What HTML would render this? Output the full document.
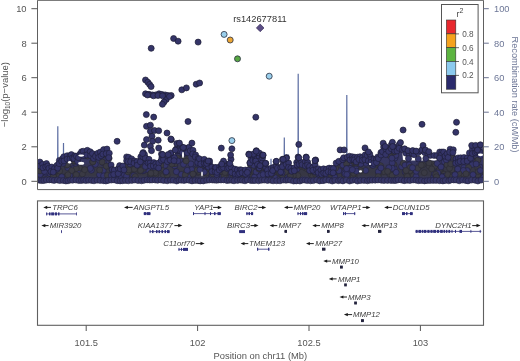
<!DOCTYPE html><html><head><meta charset="utf-8"><style>html,body{margin:0;padding:0;background:#fff;}svg{display:block;}text{font-family:"Liberation Sans",Arial,sans-serif;}</style></head><body>
<svg width="520" height="361" viewBox="0 0 520 361">
<defs><linearGradient id="mg" gradientUnits="userSpaceOnUse" x1="0" y1="140" x2="0" y2="184"><stop offset="0" stop-color="#333364"/><stop offset="0.52" stop-color="#363660"/><stop offset="0.64" stop-color="#363646"/><stop offset="0.795" stop-color="#373743"/><stop offset="0.886" stop-color="#38385e"/><stop offset="1" stop-color="#363666"/></linearGradient></defs>
<polyline fill="none" stroke="#5d6ea2" stroke-width="1.2" stroke-linejoin="bevel" points="37.5,178.0 57.6,177.0 57.8,126.2 58.0,177.0 63.3,177.0 63.5,143.0 63.7,177.0 120.0,176.0 200.0,177.0 270.8,176.0 271.0,158.8 271.2,176.0 284.1,175.0 284.3,137.5 284.5,175.0 288.3,176.0 288.5,154.4 288.7,176.0 298.0,175.0 298.2,73.7 298.4,175.0 346.6,176.0 346.8,95.0 347.0,176.0 420.0,177.0 483.5,176.0"/>
<clipPath id="pc"><rect x="37.5" y="0.5" width="446.0" height="189.1"/></clipPath>
<g clip-path="url(#pc)">
<polygon fill="url(#mg)" points="38.0,161.5 39.0,161.7 40.0,162.1 41.0,163.1 42.0,164.1 43.0,164.0 44.0,163.6 45.0,163.1 46.0,163.6 47.0,164.1 48.0,164.7 49.0,165.5 50.0,166.2 51.0,166.7 52.0,167.2 53.0,167.4 54.0,167.6 55.0,167.2 56.0,166.4 57.0,164.9 58.0,162.2 59.0,160.9 60.0,160.3 61.0,159.3 62.0,158.3 63.0,157.3 64.0,156.5 65.0,156.0 66.0,155.5 67.0,155.2 68.0,154.8 69.0,154.7 70.0,154.6 71.0,154.6 72.0,154.7 73.0,154.9 74.0,155.2 75.0,155.6 76.0,155.8 77.0,156.1 78.0,155.4 79.0,154.0 80.0,153.0 81.0,152.1 82.0,151.9 83.0,151.6 84.0,151.1 85.0,150.6 86.0,150.3 87.0,150.1 88.0,150.0 89.0,150.5 90.0,151.0 91.0,151.7 92.0,152.4 93.0,153.2 94.0,154.0 95.0,154.3 96.0,153.7 97.0,153.2 98.0,152.9 99.0,152.4 100.0,151.9 101.0,151.4 102.0,150.9 103.0,149.9 104.0,148.9 105.0,148.7 106.0,148.7 107.0,149.3 108.0,150.6 109.0,152.8 110.0,158.5 111.0,161.9 112.0,165.1 113.0,167.6 114.0,169.4 115.0,170.4 116.0,170.9 117.0,169.4 118.0,167.9 119.0,166.5 120.0,165.5 121.0,166.1 122.0,166.8 123.0,166.5 124.0,164.1 125.0,161.1 126.0,157.6 127.0,156.9 128.0,156.4 129.0,156.6 130.0,157.3 131.0,158.1 132.0,158.8 133.0,159.6 134.0,160.4 135.0,161.1 136.0,161.4 137.0,161.4 138.0,160.7 139.0,158.5 140.0,156.2 141.0,154.1 142.0,151.9 143.0,152.0 144.0,153.2 145.0,154.2 146.0,155.2 147.0,156.2 148.0,158.2 149.0,160.2 150.0,162.2 151.0,162.3 152.0,162.4 153.0,162.5 154.0,162.6 155.0,162.7 156.0,162.8 157.0,162.9 158.0,163.0 159.0,163.1 160.0,163.2 161.0,159.2 162.0,157.1 163.0,156.8 164.0,156.5 165.0,156.2 166.0,156.1 167.0,156.0 168.0,155.9 169.0,155.9 170.0,155.8 171.0,155.8 172.0,156.3 173.0,156.7 174.0,157.2 175.0,153.6 176.0,150.0 177.0,147.9 178.0,147.4 179.0,146.9 180.0,146.4 181.0,146.7 182.0,147.0 183.0,147.3 184.0,147.6 185.0,147.9 186.0,148.2 187.0,147.9 188.0,147.5 189.0,147.2 190.0,146.9 191.0,146.6 192.0,147.4 193.0,149.3 194.0,151.3 195.0,153.2 196.0,155.8 197.0,158.5 198.0,158.5 199.0,158.5 200.0,158.5 201.0,158.5 202.0,158.5 203.0,158.5 204.0,160.1 205.0,161.7 206.0,162.0 207.0,162.3 208.0,162.6 209.0,162.9 210.0,163.2 211.0,164.9 212.0,166.7 213.0,166.9 214.0,167.2 215.0,167.4 216.0,167.7 217.0,167.3 218.0,166.9 219.0,166.6 220.0,166.2 221.0,165.7 222.0,165.2 223.0,164.2 224.0,163.2 225.0,163.4 226.0,163.5 227.0,163.7 228.0,163.9 229.0,164.1 230.0,164.4 231.0,165.7 232.0,166.9 233.0,168.2 234.0,169.2 235.0,169.2 236.0,169.2 237.0,169.2 238.0,169.2 239.0,169.2 240.0,169.2 241.0,169.2 242.0,169.2 243.0,169.2 244.0,169.2 245.0,169.2 246.0,169.2 247.0,169.2 248.0,169.2 249.0,159.2 250.0,158.2 251.0,157.2 252.0,156.6 253.0,156.0 254.0,155.3 255.0,154.7 256.0,154.1 257.0,154.5 258.0,155.2 259.0,156.0 260.0,156.7 261.0,157.4 262.0,158.0 263.0,159.3 264.0,161.9 265.0,164.3 266.0,166.6 267.0,167.9 268.0,169.2 269.0,168.9 270.0,168.7 271.0,168.4 272.0,167.9 273.0,167.2 274.0,166.4 275.0,165.6 276.0,164.9 277.0,165.5 278.0,166.2 279.0,167.0 280.0,167.7 281.0,167.6 282.0,164.2 283.0,162.3 284.0,161.9 285.0,161.4 286.0,161.0 287.0,161.4 288.0,162.7 289.0,163.9 290.0,165.2 291.0,167.7 292.0,167.7 293.0,167.7 294.0,167.7 295.0,166.4 296.0,163.2 297.0,161.8 298.0,160.3 299.0,160.5 300.0,160.9 301.0,161.3 302.0,161.7 303.0,161.3 304.0,161.0 305.0,160.6 306.0,160.2 307.0,161.5 308.0,163.0 309.0,164.5 310.0,165.6 311.0,166.1 312.0,166.7 313.0,167.2 314.0,165.7 315.0,164.3 316.0,164.7 317.0,166.5 318.0,168.2 319.0,169.4 320.0,170.6 321.0,169.8 322.0,169.1 323.0,168.3 324.0,168.3 325.0,168.3 326.0,168.3 327.0,168.3 328.0,168.3 329.0,168.3 330.0,168.3 331.0,168.3 332.0,168.3 333.0,168.3 334.0,168.3 335.0,166.7 336.0,162.6 337.0,161.4 338.0,161.4 339.0,161.4 340.0,161.4 341.0,160.7 342.0,159.4 343.0,158.2 344.0,157.5 345.0,157.3 346.0,157.3 347.0,157.3 348.0,157.3 349.0,156.3 350.0,156.3 351.0,156.3 352.0,156.4 353.0,156.4 354.0,156.4 355.0,156.5 356.0,156.5 357.0,156.5 358.0,156.6 359.0,156.6 360.0,156.6 361.0,156.6 362.0,156.7 363.0,156.7 364.0,155.5 365.0,154.4 366.0,153.2 367.0,154.3 368.0,155.4 369.0,156.4 370.0,157.4 371.0,157.8 372.0,158.3 373.0,158.5 374.0,158.6 375.0,158.8 376.0,158.9 377.0,158.8 378.0,156.9 379.0,155.1 380.0,153.2 381.0,150.9 382.0,148.7 383.0,146.4 384.0,146.6 385.0,147.9 386.0,149.2 387.0,148.9 388.0,148.5 389.0,148.2 390.0,146.9 391.0,145.6 392.0,144.6 393.0,145.8 394.0,147.0 395.0,148.2 396.0,147.5 397.0,146.7 398.0,146.0 399.0,145.2 400.0,144.5 401.0,145.9 402.0,147.3 403.0,160.6 404.0,160.6 405.0,160.6 406.0,160.6 407.0,160.6 408.0,160.6 409.0,160.6 410.0,160.6 411.0,160.6 412.0,160.6 413.0,160.6 414.0,160.6 415.0,160.6 416.0,160.6 417.0,160.6 418.0,160.6 419.0,160.6 420.0,160.6 421.0,160.6 422.0,160.6 423.0,160.6 424.0,160.6 425.0,160.6 426.0,160.6 427.0,160.6 428.0,160.6 429.0,160.6 430.0,160.6 431.0,160.6 432.0,160.6 433.0,160.6 434.0,160.6 435.0,160.6 436.0,160.6 437.0,160.6 438.0,160.6 439.0,160.6 440.0,160.6 441.0,152.0 442.0,152.0 443.0,152.0 444.0,152.0 445.0,152.4 446.0,153.3 447.0,154.2 448.0,151.9 449.0,149.7 450.0,149.2 451.0,149.2 452.0,149.2 453.0,149.2 454.0,150.8 455.0,159.0 456.0,158.2 457.0,157.4 458.0,157.2 459.0,157.2 460.0,157.2 461.0,157.2 462.0,157.2 463.0,157.2 464.0,157.2 465.0,157.2 466.0,157.2 467.0,157.2 468.0,156.7 469.0,154.9 470.0,153.2 471.0,150.5 472.0,148.6 473.0,148.6 474.0,148.6 475.0,148.6 476.0,148.6 477.0,148.4 478.0,148.3 479.0,148.2 480.0,148.1 481.0,148.5 482.0,149.2 483.0,149.2 483.5,181.5 38.0,181.5"/>
<circle cx="239.7" cy="174.2" r="3" fill="#35356a" stroke="#22223a" stroke-width="0.6"/>
<circle cx="245.6" cy="173.9" r="3" fill="#35356a" stroke="#22223a" stroke-width="0.6"/>
<circle cx="121.2" cy="172.5" r="3" fill="#35356a" stroke="#22223a" stroke-width="0.6"/>
<circle cx="390.4" cy="150.7" r="3" fill="#3a3a44" stroke="#2a2a32" stroke-width="0.6"/>
<circle cx="79.6" cy="172.8" r="3" fill="#35356a" stroke="#22223a" stroke-width="0.6"/>
<circle cx="58.0" cy="176.8" r="3" fill="#35356a" stroke="#22223a" stroke-width="0.6"/>
<circle cx="328.9" cy="174.2" r="3" fill="#3a3a44" stroke="#2a2a32" stroke-width="0.6"/>
<circle cx="46.1" cy="171.4" r="3" fill="#3a3a44" stroke="#2a2a32" stroke-width="0.6"/>
<circle cx="123.7" cy="168.9" r="3" fill="#3a3a44" stroke="#2a2a32" stroke-width="0.6"/>
<circle cx="244.8" cy="173.5" r="3" fill="#35356a" stroke="#22223a" stroke-width="0.6"/>
<circle cx="269.2" cy="174.6" r="3" fill="#3a3a44" stroke="#2a2a32" stroke-width="0.6"/>
<circle cx="332.6" cy="173.1" r="3" fill="#3a3a44" stroke="#2a2a32" stroke-width="0.6"/>
<circle cx="481.0" cy="176.9" r="3" fill="#35356a" stroke="#22223a" stroke-width="0.6"/>
<circle cx="352.7" cy="163.9" r="3" fill="#3a3a44" stroke="#2a2a32" stroke-width="0.6"/>
<circle cx="167.4" cy="158.9" r="3" fill="#35356a" stroke="#22223a" stroke-width="0.6"/>
<circle cx="216.7" cy="175.8" r="3" fill="#3a3a44" stroke="#2a2a32" stroke-width="0.6"/>
<circle cx="463.4" cy="174.2" r="3" fill="#3a3a44" stroke="#2a2a32" stroke-width="0.6"/>
<circle cx="132.3" cy="175.5" r="3" fill="#3a3a44" stroke="#2a2a32" stroke-width="0.6"/>
<circle cx="473.3" cy="160.8" r="3" fill="#3a3a44" stroke="#2a2a32" stroke-width="0.6"/>
<circle cx="318.0" cy="175.4" r="3" fill="#3a3a44" stroke="#2a2a32" stroke-width="0.6"/>
<circle cx="78.1" cy="163.5" r="3" fill="#35356a" stroke="#22223a" stroke-width="0.6"/>
<circle cx="374.9" cy="162.2" r="3" fill="#3a3a44" stroke="#2a2a32" stroke-width="0.6"/>
<circle cx="84.2" cy="154.0" r="3" fill="#35356a" stroke="#22223a" stroke-width="0.6"/>
<circle cx="118.1" cy="173.5" r="3" fill="#3a3a44" stroke="#2a2a32" stroke-width="0.6"/>
<circle cx="123.9" cy="174.0" r="3" fill="#3a3a44" stroke="#2a2a32" stroke-width="0.6"/>
<circle cx="324.3" cy="170.6" r="3" fill="#3a3a44" stroke="#2a2a32" stroke-width="0.6"/>
<circle cx="133.7" cy="165.8" r="3" fill="#35356a" stroke="#22223a" stroke-width="0.6"/>
<circle cx="395.0" cy="158.0" r="3" fill="#35356a" stroke="#22223a" stroke-width="0.6"/>
<circle cx="132.7" cy="167.3" r="3" fill="#35356a" stroke="#22223a" stroke-width="0.6"/>
<circle cx="323.5" cy="170.5" r="3" fill="#35356a" stroke="#22223a" stroke-width="0.6"/>
<circle cx="133.9" cy="165.7" r="3" fill="#35356a" stroke="#22223a" stroke-width="0.6"/>
<circle cx="185.1" cy="157.6" r="3" fill="#3a3a44" stroke="#2a2a32" stroke-width="0.6"/>
<circle cx="79.4" cy="167.9" r="3" fill="#3a3a44" stroke="#2a2a32" stroke-width="0.6"/>
<circle cx="305.6" cy="167.5" r="3" fill="#3a3a44" stroke="#2a2a32" stroke-width="0.6"/>
<circle cx="463.9" cy="167.6" r="3" fill="#35356a" stroke="#22223a" stroke-width="0.6"/>
<circle cx="422.9" cy="164.8" r="3" fill="#3a3a44" stroke="#2a2a32" stroke-width="0.6"/>
<circle cx="441.5" cy="172.7" r="3" fill="#3a3a44" stroke="#2a2a32" stroke-width="0.6"/>
<circle cx="123.5" cy="174.3" r="3" fill="#35356a" stroke="#22223a" stroke-width="0.6"/>
<circle cx="126.5" cy="176.1" r="3" fill="#35356a" stroke="#22223a" stroke-width="0.6"/>
<circle cx="306.6" cy="168.5" r="3" fill="#3a3a44" stroke="#2a2a32" stroke-width="0.6"/>
<circle cx="56.6" cy="176.6" r="3" fill="#3a3a44" stroke="#2a2a32" stroke-width="0.6"/>
<circle cx="351.3" cy="162.8" r="3" fill="#35356a" stroke="#22223a" stroke-width="0.6"/>
<circle cx="303.4" cy="166.9" r="3" fill="#3a3a44" stroke="#2a2a32" stroke-width="0.6"/>
<circle cx="358.3" cy="159.4" r="3" fill="#3a3a44" stroke="#2a2a32" stroke-width="0.6"/>
<circle cx="287.0" cy="174.9" r="3" fill="#35356a" stroke="#22223a" stroke-width="0.6"/>
<circle cx="163.5" cy="175.4" r="3" fill="#3a3a44" stroke="#2a2a32" stroke-width="0.6"/>
<circle cx="46.8" cy="168.6" r="3" fill="#3a3a44" stroke="#2a2a32" stroke-width="0.6"/>
<circle cx="66.3" cy="160.5" r="3" fill="#3a3a44" stroke="#2a2a32" stroke-width="0.6"/>
<circle cx="292.7" cy="170.2" r="3" fill="#3a3a44" stroke="#2a2a32" stroke-width="0.6"/>
<circle cx="433.7" cy="176.7" r="3" fill="#35356a" stroke="#22223a" stroke-width="0.6"/>
<circle cx="345.4" cy="169.4" r="3" fill="#3a3a44" stroke="#2a2a32" stroke-width="0.6"/>
<circle cx="55.0" cy="168.8" r="3" fill="#35356a" stroke="#22223a" stroke-width="0.6"/>
<circle cx="349.7" cy="176.3" r="3" fill="#3a3a44" stroke="#2a2a32" stroke-width="0.6"/>
<circle cx="321.0" cy="174.1" r="3" fill="#35356a" stroke="#22223a" stroke-width="0.6"/>
<circle cx="180.6" cy="177.0" r="3" fill="#3a3a44" stroke="#2a2a32" stroke-width="0.6"/>
<circle cx="281.1" cy="174.8" r="3" fill="#35356a" stroke="#22223a" stroke-width="0.6"/>
<circle cx="365.7" cy="170.5" r="3" fill="#35356a" stroke="#22223a" stroke-width="0.6"/>
<circle cx="444.4" cy="161.8" r="3" fill="#35356a" stroke="#22223a" stroke-width="0.6"/>
<circle cx="438.1" cy="175.1" r="3" fill="#3a3a44" stroke="#2a2a32" stroke-width="0.6"/>
<circle cx="389.3" cy="173.2" r="3" fill="#35356a" stroke="#22223a" stroke-width="0.6"/>
<circle cx="316.0" cy="170.4" r="3" fill="#35356a" stroke="#22223a" stroke-width="0.6"/>
<circle cx="308.9" cy="166.8" r="3" fill="#35356a" stroke="#22223a" stroke-width="0.6"/>
<circle cx="479.0" cy="173.7" r="3" fill="#35356a" stroke="#22223a" stroke-width="0.6"/>
<circle cx="211.4" cy="174.4" r="3" fill="#35356a" stroke="#22223a" stroke-width="0.6"/>
<circle cx="234.4" cy="176.0" r="3" fill="#3a3a44" stroke="#2a2a32" stroke-width="0.6"/>
<circle cx="371.5" cy="160.1" r="3" fill="#35356a" stroke="#22223a" stroke-width="0.6"/>
<circle cx="252.3" cy="162.3" r="3" fill="#35356a" stroke="#22223a" stroke-width="0.6"/>
<circle cx="259.5" cy="169.6" r="3" fill="#35356a" stroke="#22223a" stroke-width="0.6"/>
<circle cx="152.7" cy="164.1" r="3" fill="#3a3a44" stroke="#2a2a32" stroke-width="0.6"/>
<circle cx="339.6" cy="165.8" r="3" fill="#3a3a44" stroke="#2a2a32" stroke-width="0.6"/>
<circle cx="440.3" cy="169.0" r="3" fill="#3a3a44" stroke="#2a2a32" stroke-width="0.6"/>
<circle cx="434.1" cy="167.0" r="3" fill="#35356a" stroke="#22223a" stroke-width="0.6"/>
<circle cx="127.3" cy="166.3" r="3" fill="#35356a" stroke="#22223a" stroke-width="0.6"/>
<circle cx="444.0" cy="174.2" r="3" fill="#3a3a44" stroke="#2a2a32" stroke-width="0.6"/>
<circle cx="297.5" cy="167.1" r="3" fill="#3a3a44" stroke="#2a2a32" stroke-width="0.6"/>
<circle cx="259.2" cy="173.9" r="3" fill="#35356a" stroke="#22223a" stroke-width="0.6"/>
<circle cx="354.2" cy="176.0" r="3" fill="#3a3a44" stroke="#2a2a32" stroke-width="0.6"/>
<circle cx="114.3" cy="173.8" r="3" fill="#3a3a44" stroke="#2a2a32" stroke-width="0.6"/>
<circle cx="134.2" cy="168.2" r="3" fill="#35356a" stroke="#22223a" stroke-width="0.6"/>
<circle cx="258.0" cy="163.2" r="3" fill="#35356a" stroke="#22223a" stroke-width="0.6"/>
<circle cx="474.1" cy="162.3" r="3" fill="#3a3a44" stroke="#2a2a32" stroke-width="0.6"/>
<circle cx="53.4" cy="176.0" r="3" fill="#3a3a44" stroke="#2a2a32" stroke-width="0.6"/>
<circle cx="353.1" cy="168.8" r="3" fill="#3a3a44" stroke="#2a2a32" stroke-width="0.6"/>
<circle cx="389.7" cy="149.3" r="3" fill="#3a3a44" stroke="#2a2a32" stroke-width="0.6"/>
<circle cx="240.8" cy="170.9" r="3" fill="#35356a" stroke="#22223a" stroke-width="0.6"/>
<circle cx="144.6" cy="158.3" r="3" fill="#3a3a44" stroke="#2a2a32" stroke-width="0.6"/>
<circle cx="317.9" cy="172.9" r="3" fill="#35356a" stroke="#22223a" stroke-width="0.6"/>
<circle cx="329.4" cy="175.6" r="3" fill="#35356a" stroke="#22223a" stroke-width="0.6"/>
<circle cx="342.4" cy="163.8" r="3" fill="#3a3a44" stroke="#2a2a32" stroke-width="0.6"/>
<circle cx="118.6" cy="168.7" r="3" fill="#3a3a44" stroke="#2a2a32" stroke-width="0.6"/>
<circle cx="355.5" cy="161.4" r="3" fill="#3a3a44" stroke="#2a2a32" stroke-width="0.6"/>
<circle cx="192.5" cy="168.8" r="3" fill="#35356a" stroke="#22223a" stroke-width="0.6"/>
<circle cx="311.4" cy="174.8" r="3" fill="#3a3a44" stroke="#2a2a32" stroke-width="0.6"/>
<circle cx="389.9" cy="174.3" r="3" fill="#3a3a44" stroke="#2a2a32" stroke-width="0.6"/>
<circle cx="452.2" cy="169.7" r="3" fill="#3a3a44" stroke="#2a2a32" stroke-width="0.6"/>
<circle cx="240.2" cy="174.6" r="3" fill="#35356a" stroke="#22223a" stroke-width="0.6"/>
<circle cx="206.2" cy="171.2" r="3" fill="#35356a" stroke="#22223a" stroke-width="0.6"/>
<circle cx="392.1" cy="175.3" r="3" fill="#3a3a44" stroke="#2a2a32" stroke-width="0.6"/>
<circle cx="327.7" cy="171.3" r="3" fill="#35356a" stroke="#22223a" stroke-width="0.6"/>
<circle cx="401.6" cy="166.7" r="3" fill="#35356a" stroke="#22223a" stroke-width="0.6"/>
<circle cx="133.9" cy="175.5" r="3" fill="#35356a" stroke="#22223a" stroke-width="0.6"/>
<circle cx="472.0" cy="164.5" r="3" fill="#35356a" stroke="#22223a" stroke-width="0.6"/>
<circle cx="181.3" cy="174.4" r="3" fill="#35356a" stroke="#22223a" stroke-width="0.6"/>
<circle cx="193.7" cy="154.3" r="3" fill="#3a3a44" stroke="#2a2a32" stroke-width="0.6"/>
<circle cx="283.0" cy="173.9" r="3" fill="#3a3a44" stroke="#2a2a32" stroke-width="0.6"/>
<circle cx="52.1" cy="175.4" r="3" fill="#3a3a44" stroke="#2a2a32" stroke-width="0.6"/>
<circle cx="393.4" cy="152.9" r="3" fill="#3a3a44" stroke="#2a2a32" stroke-width="0.6"/>
<circle cx="388.1" cy="153.8" r="3" fill="#3a3a44" stroke="#2a2a32" stroke-width="0.6"/>
<circle cx="268.1" cy="175.3" r="3" fill="#35356a" stroke="#22223a" stroke-width="0.6"/>
<circle cx="344.5" cy="176.0" r="3" fill="#3a3a44" stroke="#2a2a32" stroke-width="0.6"/>
<circle cx="459.5" cy="160.3" r="3" fill="#3a3a44" stroke="#2a2a32" stroke-width="0.6"/>
<circle cx="272.5" cy="171.3" r="3" fill="#35356a" stroke="#22223a" stroke-width="0.6"/>
<circle cx="322.2" cy="173.9" r="3" fill="#35356a" stroke="#22223a" stroke-width="0.6"/>
<circle cx="287.3" cy="167.6" r="3" fill="#3a3a44" stroke="#2a2a32" stroke-width="0.6"/>
<circle cx="413.5" cy="175.5" r="3" fill="#3a3a44" stroke="#2a2a32" stroke-width="0.6"/>
<circle cx="416.0" cy="176.5" r="3" fill="#35356a" stroke="#22223a" stroke-width="0.6"/>
<circle cx="293.0" cy="170.8" r="3" fill="#35356a" stroke="#22223a" stroke-width="0.6"/>
<circle cx="262.2" cy="170.1" r="3" fill="#3a3a44" stroke="#2a2a32" stroke-width="0.6"/>
<circle cx="468.5" cy="167.5" r="3" fill="#3a3a44" stroke="#2a2a32" stroke-width="0.6"/>
<circle cx="394.0" cy="164.5" r="3" fill="#3a3a44" stroke="#2a2a32" stroke-width="0.6"/>
<circle cx="345.3" cy="160.0" r="3" fill="#35356a" stroke="#22223a" stroke-width="0.6"/>
<circle cx="222.6" cy="176.5" r="3" fill="#35356a" stroke="#22223a" stroke-width="0.6"/>
<circle cx="158.6" cy="170.4" r="3" fill="#3a3a44" stroke="#2a2a32" stroke-width="0.6"/>
<circle cx="231.4" cy="175.3" r="3" fill="#35356a" stroke="#22223a" stroke-width="0.6"/>
<circle cx="250.4" cy="164.9" r="3" fill="#3a3a44" stroke="#2a2a32" stroke-width="0.6"/>
<circle cx="312.9" cy="176.4" r="3" fill="#3a3a44" stroke="#2a2a32" stroke-width="0.6"/>
<circle cx="384.3" cy="149.2" r="3" fill="#3a3a44" stroke="#2a2a32" stroke-width="0.6"/>
<circle cx="140.1" cy="170.9" r="3" fill="#3a3a44" stroke="#2a2a32" stroke-width="0.6"/>
<circle cx="196.7" cy="170.3" r="3" fill="#3a3a44" stroke="#2a2a32" stroke-width="0.6"/>
<circle cx="362.9" cy="160.5" r="3" fill="#35356a" stroke="#22223a" stroke-width="0.6"/>
<circle cx="150.4" cy="166.4" r="3" fill="#35356a" stroke="#22223a" stroke-width="0.6"/>
<circle cx="232.8" cy="172.3" r="3" fill="#3a3a44" stroke="#2a2a32" stroke-width="0.6"/>
<circle cx="273.7" cy="169.5" r="3" fill="#3a3a44" stroke="#2a2a32" stroke-width="0.6"/>
<circle cx="318.9" cy="174.7" r="3" fill="#35356a" stroke="#22223a" stroke-width="0.6"/>
<circle cx="416.2" cy="171.2" r="3" fill="#35356a" stroke="#22223a" stroke-width="0.6"/>
<circle cx="142.5" cy="170.7" r="3" fill="#35356a" stroke="#22223a" stroke-width="0.6"/>
<circle cx="438.9" cy="166.8" r="3" fill="#3a3a44" stroke="#2a2a32" stroke-width="0.6"/>
<circle cx="447.8" cy="158.9" r="3" fill="#35356a" stroke="#22223a" stroke-width="0.6"/>
<circle cx="432.2" cy="164.1" r="3" fill="#3a3a44" stroke="#2a2a32" stroke-width="0.6"/>
<circle cx="361.0" cy="163.0" r="3" fill="#3a3a44" stroke="#2a2a32" stroke-width="0.6"/>
<circle cx="407.7" cy="168.4" r="3" fill="#35356a" stroke="#22223a" stroke-width="0.6"/>
<circle cx="95.3" cy="164.3" r="3" fill="#35356a" stroke="#22223a" stroke-width="0.6"/>
<circle cx="47.4" cy="168.0" r="3" fill="#35356a" stroke="#22223a" stroke-width="0.6"/>
<circle cx="442.8" cy="176.3" r="3" fill="#3a3a44" stroke="#2a2a32" stroke-width="0.6"/>
<circle cx="263.3" cy="173.2" r="3" fill="#35356a" stroke="#22223a" stroke-width="0.6"/>
<circle cx="342.9" cy="163.1" r="3" fill="#3a3a44" stroke="#2a2a32" stroke-width="0.6"/>
<circle cx="86.5" cy="152.6" r="3" fill="#35356a" stroke="#22223a" stroke-width="0.6"/>
<circle cx="267.3" cy="173.9" r="3" fill="#3a3a44" stroke="#2a2a32" stroke-width="0.6"/>
<circle cx="121.2" cy="169.6" r="3" fill="#35356a" stroke="#22223a" stroke-width="0.6"/>
<circle cx="477.7" cy="175.0" r="3" fill="#3a3a44" stroke="#2a2a32" stroke-width="0.6"/>
<circle cx="66.9" cy="176.0" r="3" fill="#3a3a44" stroke="#2a2a32" stroke-width="0.6"/>
<circle cx="377.9" cy="164.6" r="3" fill="#3a3a44" stroke="#2a2a32" stroke-width="0.6"/>
<circle cx="267.5" cy="173.0" r="3" fill="#35356a" stroke="#22223a" stroke-width="0.6"/>
<circle cx="45.4" cy="173.3" r="3" fill="#35356a" stroke="#22223a" stroke-width="0.6"/>
<circle cx="119.7" cy="171.6" r="3" fill="#35356a" stroke="#22223a" stroke-width="0.6"/>
<circle cx="218.8" cy="169.9" r="3" fill="#3a3a44" stroke="#2a2a32" stroke-width="0.6"/>
<circle cx="266.3" cy="168.6" r="3" fill="#35356a" stroke="#22223a" stroke-width="0.6"/>
<circle cx="394.3" cy="168.7" r="3" fill="#35356a" stroke="#22223a" stroke-width="0.6"/>
<circle cx="318.0" cy="172.7" r="3" fill="#35356a" stroke="#22223a" stroke-width="0.6"/>
<circle cx="262.6" cy="176.7" r="3" fill="#35356a" stroke="#22223a" stroke-width="0.6"/>
<circle cx="153.8" cy="175.9" r="3" fill="#35356a" stroke="#22223a" stroke-width="0.6"/>
<circle cx="383.8" cy="171.6" r="3" fill="#3a3a44" stroke="#2a2a32" stroke-width="0.6"/>
<circle cx="436.2" cy="175.2" r="3" fill="#35356a" stroke="#22223a" stroke-width="0.6"/>
<circle cx="379.0" cy="172.2" r="3" fill="#3a3a44" stroke="#2a2a32" stroke-width="0.6"/>
<circle cx="359.3" cy="159.4" r="3" fill="#3a3a44" stroke="#2a2a32" stroke-width="0.6"/>
<circle cx="247.0" cy="170.8" r="3" fill="#3a3a44" stroke="#2a2a32" stroke-width="0.6"/>
<circle cx="322.1" cy="174.5" r="3" fill="#3a3a44" stroke="#2a2a32" stroke-width="0.6"/>
<circle cx="457.5" cy="170.9" r="3" fill="#3a3a44" stroke="#2a2a32" stroke-width="0.6"/>
<circle cx="331.4" cy="173.9" r="3" fill="#35356a" stroke="#22223a" stroke-width="0.6"/>
<circle cx="211.9" cy="177.0" r="3" fill="#35356a" stroke="#22223a" stroke-width="0.6"/>
<circle cx="349.8" cy="172.4" r="3" fill="#35356a" stroke="#22223a" stroke-width="0.6"/>
<circle cx="49.6" cy="173.3" r="3" fill="#35356a" stroke="#22223a" stroke-width="0.6"/>
<circle cx="153.1" cy="169.2" r="3" fill="#3a3a44" stroke="#2a2a32" stroke-width="0.6"/>
<circle cx="126.0" cy="165.9" r="3" fill="#3a3a44" stroke="#2a2a32" stroke-width="0.6"/>
<circle cx="150.5" cy="175.7" r="3" fill="#35356a" stroke="#22223a" stroke-width="0.6"/>
<circle cx="264.2" cy="176.6" r="3" fill="#35356a" stroke="#22223a" stroke-width="0.6"/>
<circle cx="479.8" cy="167.1" r="3" fill="#35356a" stroke="#22223a" stroke-width="0.6"/>
<circle cx="73.2" cy="168.7" r="3" fill="#35356a" stroke="#22223a" stroke-width="0.6"/>
<circle cx="59.5" cy="176.0" r="3" fill="#3a3a44" stroke="#2a2a32" stroke-width="0.6"/>
<circle cx="248.3" cy="171.8" r="3" fill="#3a3a44" stroke="#2a2a32" stroke-width="0.6"/>
<circle cx="309.9" cy="167.7" r="3" fill="#35356a" stroke="#22223a" stroke-width="0.6"/>
<circle cx="225.7" cy="171.3" r="3" fill="#35356a" stroke="#22223a" stroke-width="0.6"/>
<circle cx="201.3" cy="164.9" r="3" fill="#35356a" stroke="#22223a" stroke-width="0.6"/>
<circle cx="287.6" cy="167.4" r="3" fill="#35356a" stroke="#22223a" stroke-width="0.6"/>
<circle cx="170.5" cy="157.5" r="3" fill="#3a3a44" stroke="#2a2a32" stroke-width="0.6"/>
<circle cx="58.4" cy="165.0" r="3" fill="#35356a" stroke="#22223a" stroke-width="0.6"/>
<circle cx="212.1" cy="176.1" r="3" fill="#35356a" stroke="#22223a" stroke-width="0.6"/>
<circle cx="61.7" cy="176.8" r="3" fill="#35356a" stroke="#22223a" stroke-width="0.6"/>
<circle cx="72.0" cy="175.0" r="3" fill="#3a3a44" stroke="#2a2a32" stroke-width="0.6"/>
<circle cx="250.8" cy="176.5" r="3" fill="#3a3a44" stroke="#2a2a32" stroke-width="0.6"/>
<circle cx="271.1" cy="176.6" r="3" fill="#35356a" stroke="#22223a" stroke-width="0.6"/>
<circle cx="246.7" cy="176.9" r="3" fill="#35356a" stroke="#22223a" stroke-width="0.6"/>
<circle cx="306.6" cy="164.1" r="3" fill="#35356a" stroke="#22223a" stroke-width="0.6"/>
<circle cx="241.1" cy="172.0" r="3" fill="#3a3a44" stroke="#2a2a32" stroke-width="0.6"/>
<circle cx="273.2" cy="169.6" r="3" fill="#3a3a44" stroke="#2a2a32" stroke-width="0.6"/>
<circle cx="335.0" cy="172.1" r="3" fill="#3a3a44" stroke="#2a2a32" stroke-width="0.6"/>
<circle cx="297.1" cy="168.9" r="3" fill="#35356a" stroke="#22223a" stroke-width="0.6"/>
<circle cx="274.4" cy="177.0" r="3" fill="#35356a" stroke="#22223a" stroke-width="0.6"/>
<circle cx="364.4" cy="161.4" r="3" fill="#3a3a44" stroke="#2a2a32" stroke-width="0.6"/>
<circle cx="434.5" cy="173.8" r="3" fill="#35356a" stroke="#22223a" stroke-width="0.6"/>
<circle cx="198.4" cy="164.6" r="3" fill="#35356a" stroke="#22223a" stroke-width="0.6"/>
<circle cx="289.5" cy="172.5" r="3" fill="#35356a" stroke="#22223a" stroke-width="0.6"/>
<circle cx="372.9" cy="163.2" r="3" fill="#3a3a44" stroke="#2a2a32" stroke-width="0.6"/>
<circle cx="473.0" cy="174.7" r="3" fill="#35356a" stroke="#22223a" stroke-width="0.6"/>
<circle cx="57.0" cy="167.1" r="3" fill="#3a3a44" stroke="#2a2a32" stroke-width="0.6"/>
<circle cx="227.6" cy="172.6" r="3" fill="#3a3a44" stroke="#2a2a32" stroke-width="0.6"/>
<circle cx="279.2" cy="169.2" r="3" fill="#3a3a44" stroke="#2a2a32" stroke-width="0.6"/>
<circle cx="338.8" cy="170.7" r="3" fill="#35356a" stroke="#22223a" stroke-width="0.6"/>
<circle cx="204.6" cy="169.5" r="3" fill="#3a3a44" stroke="#2a2a32" stroke-width="0.6"/>
<circle cx="191.6" cy="169.6" r="3" fill="#35356a" stroke="#22223a" stroke-width="0.6"/>
<circle cx="72.4" cy="158.7" r="3" fill="#35356a" stroke="#22223a" stroke-width="0.6"/>
<circle cx="315.5" cy="174.3" r="3" fill="#3a3a44" stroke="#2a2a32" stroke-width="0.6"/>
<circle cx="227.3" cy="168.3" r="3" fill="#35356a" stroke="#22223a" stroke-width="0.6"/>
<circle cx="202.8" cy="171.1" r="3" fill="#35356a" stroke="#22223a" stroke-width="0.6"/>
<circle cx="183.5" cy="164.3" r="3" fill="#35356a" stroke="#22223a" stroke-width="0.6"/>
<circle cx="447.0" cy="164.8" r="3" fill="#3a3a44" stroke="#2a2a32" stroke-width="0.6"/>
<circle cx="82.4" cy="174.0" r="3" fill="#3a3a44" stroke="#2a2a32" stroke-width="0.6"/>
<circle cx="76.2" cy="168.5" r="3" fill="#3a3a44" stroke="#2a2a32" stroke-width="0.6"/>
<circle cx="342.8" cy="165.1" r="3" fill="#35356a" stroke="#22223a" stroke-width="0.6"/>
<circle cx="73.2" cy="160.8" r="3" fill="#35356a" stroke="#22223a" stroke-width="0.6"/>
<circle cx="75.7" cy="163.2" r="3" fill="#35356a" stroke="#22223a" stroke-width="0.6"/>
<circle cx="346.6" cy="163.9" r="3" fill="#3a3a44" stroke="#2a2a32" stroke-width="0.6"/>
<circle cx="197.8" cy="172.3" r="3" fill="#3a3a44" stroke="#2a2a32" stroke-width="0.6"/>
<circle cx="91.4" cy="170.2" r="3" fill="#35356a" stroke="#22223a" stroke-width="0.6"/>
<circle cx="446.0" cy="175.7" r="3" fill="#35356a" stroke="#22223a" stroke-width="0.6"/>
<circle cx="233.3" cy="175.6" r="3" fill="#3a3a44" stroke="#2a2a32" stroke-width="0.6"/>
<circle cx="180.0" cy="159.5" r="3" fill="#35356a" stroke="#22223a" stroke-width="0.6"/>
<circle cx="435.4" cy="165.8" r="3" fill="#3a3a44" stroke="#2a2a32" stroke-width="0.6"/>
<circle cx="201.3" cy="166.2" r="3" fill="#3a3a44" stroke="#2a2a32" stroke-width="0.6"/>
<circle cx="211.0" cy="168.5" r="3" fill="#35356a" stroke="#22223a" stroke-width="0.6"/>
<circle cx="392.2" cy="162.9" r="3" fill="#35356a" stroke="#22223a" stroke-width="0.6"/>
<circle cx="288.5" cy="167.0" r="3" fill="#35356a" stroke="#22223a" stroke-width="0.6"/>
<circle cx="429.3" cy="166.3" r="3" fill="#3a3a44" stroke="#2a2a32" stroke-width="0.6"/>
<circle cx="267.7" cy="173.9" r="3" fill="#35356a" stroke="#22223a" stroke-width="0.6"/>
<circle cx="467.1" cy="170.6" r="3" fill="#35356a" stroke="#22223a" stroke-width="0.6"/>
<circle cx="67.8" cy="167.7" r="3" fill="#35356a" stroke="#22223a" stroke-width="0.6"/>
<circle cx="76.7" cy="159.1" r="3" fill="#35356a" stroke="#22223a" stroke-width="0.6"/>
<circle cx="437.3" cy="163.4" r="3" fill="#35356a" stroke="#22223a" stroke-width="0.6"/>
<circle cx="103.2" cy="170.5" r="3" fill="#35356a" stroke="#22223a" stroke-width="0.6"/>
<circle cx="148.1" cy="163.7" r="3" fill="#35356a" stroke="#22223a" stroke-width="0.6"/>
<circle cx="270.3" cy="175.4" r="3" fill="#3a3a44" stroke="#2a2a32" stroke-width="0.6"/>
<circle cx="189.0" cy="176.1" r="3" fill="#35356a" stroke="#22223a" stroke-width="0.6"/>
<circle cx="257.9" cy="167.6" r="3" fill="#35356a" stroke="#22223a" stroke-width="0.6"/>
<circle cx="352.9" cy="175.4" r="3" fill="#3a3a44" stroke="#2a2a32" stroke-width="0.6"/>
<circle cx="405.1" cy="172.0" r="3" fill="#35356a" stroke="#22223a" stroke-width="0.6"/>
<circle cx="396.1" cy="172.3" r="3" fill="#35356a" stroke="#22223a" stroke-width="0.6"/>
<circle cx="463.3" cy="170.4" r="3" fill="#35356a" stroke="#22223a" stroke-width="0.6"/>
<circle cx="353.7" cy="173.2" r="3" fill="#3a3a44" stroke="#2a2a32" stroke-width="0.6"/>
<circle cx="225.6" cy="166.7" r="3" fill="#35356a" stroke="#22223a" stroke-width="0.6"/>
<circle cx="478.0" cy="160.0" r="3" fill="#3a3a44" stroke="#2a2a32" stroke-width="0.6"/>
<circle cx="129.9" cy="166.5" r="3" fill="#3a3a44" stroke="#2a2a32" stroke-width="0.6"/>
<circle cx="468.6" cy="158.3" r="3" fill="#3a3a44" stroke="#2a2a32" stroke-width="0.6"/>
<circle cx="90.3" cy="168.4" r="3" fill="#35356a" stroke="#22223a" stroke-width="0.6"/>
<circle cx="118.9" cy="168.7" r="3" fill="#3a3a44" stroke="#2a2a32" stroke-width="0.6"/>
<circle cx="297.9" cy="175.6" r="3" fill="#3a3a44" stroke="#2a2a32" stroke-width="0.6"/>
<circle cx="87.6" cy="156.1" r="3" fill="#3a3a44" stroke="#2a2a32" stroke-width="0.6"/>
<circle cx="143.7" cy="170.6" r="3" fill="#35356a" stroke="#22223a" stroke-width="0.6"/>
<circle cx="138.6" cy="163.8" r="3" fill="#3a3a44" stroke="#2a2a32" stroke-width="0.6"/>
<circle cx="115.8" cy="175.9" r="3" fill="#3a3a44" stroke="#2a2a32" stroke-width="0.6"/>
<circle cx="282.1" cy="174.9" r="3" fill="#3a3a44" stroke="#2a2a32" stroke-width="0.6"/>
<circle cx="154.8" cy="175.6" r="3" fill="#35356a" stroke="#22223a" stroke-width="0.6"/>
<circle cx="190.9" cy="163.9" r="3" fill="#35356a" stroke="#22223a" stroke-width="0.6"/>
<circle cx="253.1" cy="161.7" r="3" fill="#3a3a44" stroke="#2a2a32" stroke-width="0.6"/>
<circle cx="458.8" cy="173.4" r="3" fill="#3a3a44" stroke="#2a2a32" stroke-width="0.6"/>
<circle cx="273.0" cy="173.0" r="3" fill="#3a3a44" stroke="#2a2a32" stroke-width="0.6"/>
<circle cx="477.7" cy="167.7" r="3" fill="#3a3a44" stroke="#2a2a32" stroke-width="0.6"/>
<circle cx="44.3" cy="170.6" r="3" fill="#3a3a44" stroke="#2a2a32" stroke-width="0.6"/>
<circle cx="392.1" cy="168.2" r="3" fill="#35356a" stroke="#22223a" stroke-width="0.6"/>
<circle cx="109.1" cy="158.3" r="3" fill="#3a3a44" stroke="#2a2a32" stroke-width="0.6"/>
<circle cx="154.3" cy="175.3" r="3" fill="#35356a" stroke="#22223a" stroke-width="0.6"/>
<circle cx="321.4" cy="177.0" r="3" fill="#3a3a44" stroke="#2a2a32" stroke-width="0.6"/>
<circle cx="276.1" cy="167.9" r="3" fill="#35356a" stroke="#22223a" stroke-width="0.6"/>
<circle cx="40.1" cy="174.6" r="3" fill="#35356a" stroke="#22223a" stroke-width="0.6"/>
<circle cx="403.3" cy="163.3" r="3" fill="#3a3a44" stroke="#2a2a32" stroke-width="0.6"/>
<circle cx="356.6" cy="159.9" r="3" fill="#3a3a44" stroke="#2a2a32" stroke-width="0.6"/>
<circle cx="246.9" cy="176.7" r="3" fill="#35356a" stroke="#22223a" stroke-width="0.6"/>
<circle cx="418.9" cy="166.6" r="3" fill="#35356a" stroke="#22223a" stroke-width="0.6"/>
<circle cx="224.0" cy="176.0" r="3" fill="#3a3a44" stroke="#2a2a32" stroke-width="0.6"/>
<circle cx="405.1" cy="165.2" r="3" fill="#35356a" stroke="#22223a" stroke-width="0.6"/>
<circle cx="272.1" cy="170.5" r="3" fill="#35356a" stroke="#22223a" stroke-width="0.6"/>
<circle cx="177.3" cy="157.9" r="3" fill="#3a3a44" stroke="#2a2a32" stroke-width="0.6"/>
<circle cx="174.8" cy="165.8" r="3" fill="#35356a" stroke="#22223a" stroke-width="0.6"/>
<circle cx="198.7" cy="171.7" r="3" fill="#3a3a44" stroke="#2a2a32" stroke-width="0.6"/>
<circle cx="213.9" cy="172.5" r="3" fill="#35356a" stroke="#22223a" stroke-width="0.6"/>
<circle cx="406.7" cy="171.8" r="3" fill="#3a3a44" stroke="#2a2a32" stroke-width="0.6"/>
<circle cx="206.4" cy="173.1" r="3" fill="#3a3a44" stroke="#2a2a32" stroke-width="0.6"/>
<circle cx="289.1" cy="170.8" r="3" fill="#3a3a44" stroke="#2a2a32" stroke-width="0.6"/>
<circle cx="478.3" cy="171.5" r="3" fill="#3a3a44" stroke="#2a2a32" stroke-width="0.6"/>
<circle cx="312.1" cy="170.8" r="3" fill="#3a3a44" stroke="#2a2a32" stroke-width="0.6"/>
<circle cx="278.3" cy="170.7" r="3" fill="#3a3a44" stroke="#2a2a32" stroke-width="0.6"/>
<circle cx="213.0" cy="174.2" r="3" fill="#3a3a44" stroke="#2a2a32" stroke-width="0.6"/>
<circle cx="128.0" cy="171.9" r="3" fill="#3a3a44" stroke="#2a2a32" stroke-width="0.6"/>
<circle cx="457.7" cy="169.0" r="3" fill="#35356a" stroke="#22223a" stroke-width="0.6"/>
<circle cx="186.3" cy="172.3" r="3" fill="#3a3a44" stroke="#2a2a32" stroke-width="0.6"/>
<circle cx="101.8" cy="154.9" r="3" fill="#35356a" stroke="#22223a" stroke-width="0.6"/>
<circle cx="352.9" cy="161.3" r="3" fill="#3a3a44" stroke="#2a2a32" stroke-width="0.6"/>
<circle cx="409.8" cy="170.9" r="3" fill="#3a3a44" stroke="#2a2a32" stroke-width="0.6"/>
<circle cx="139.8" cy="161.2" r="3" fill="#3a3a44" stroke="#2a2a32" stroke-width="0.6"/>
<circle cx="219.5" cy="168.5" r="3" fill="#35356a" stroke="#22223a" stroke-width="0.6"/>
<circle cx="228.5" cy="171.4" r="3" fill="#35356a" stroke="#22223a" stroke-width="0.6"/>
<circle cx="378.8" cy="173.4" r="3" fill="#3a3a44" stroke="#2a2a32" stroke-width="0.6"/>
<circle cx="186.1" cy="160.9" r="3" fill="#3a3a44" stroke="#2a2a32" stroke-width="0.6"/>
<circle cx="216.8" cy="174.6" r="3" fill="#35356a" stroke="#22223a" stroke-width="0.6"/>
<circle cx="388.9" cy="167.7" r="3" fill="#35356a" stroke="#22223a" stroke-width="0.6"/>
<circle cx="47.7" cy="169.7" r="3" fill="#3a3a44" stroke="#2a2a32" stroke-width="0.6"/>
<circle cx="327.4" cy="170.6" r="3" fill="#3a3a44" stroke="#2a2a32" stroke-width="0.6"/>
<circle cx="264.9" cy="174.6" r="3" fill="#35356a" stroke="#22223a" stroke-width="0.6"/>
<circle cx="310.1" cy="168.7" r="3" fill="#35356a" stroke="#22223a" stroke-width="0.6"/>
<circle cx="439.1" cy="170.3" r="3" fill="#3a3a44" stroke="#2a2a32" stroke-width="0.6"/>
<circle cx="260.9" cy="161.4" r="3" fill="#35356a" stroke="#22223a" stroke-width="0.6"/>
<circle cx="476.1" cy="164.0" r="3" fill="#35356a" stroke="#22223a" stroke-width="0.6"/>
<circle cx="409.2" cy="165.0" r="3" fill="#35356a" stroke="#22223a" stroke-width="0.6"/>
<circle cx="317.0" cy="169.8" r="3" fill="#3a3a44" stroke="#2a2a32" stroke-width="0.6"/>
<circle cx="147.7" cy="169.4" r="3" fill="#35356a" stroke="#22223a" stroke-width="0.6"/>
<circle cx="185.2" cy="175.0" r="3" fill="#3a3a44" stroke="#2a2a32" stroke-width="0.6"/>
<circle cx="244.4" cy="171.5" r="3" fill="#35356a" stroke="#22223a" stroke-width="0.6"/>
<circle cx="99.5" cy="174.8" r="3" fill="#35356a" stroke="#22223a" stroke-width="0.6"/>
<circle cx="287.6" cy="171.2" r="3" fill="#3a3a44" stroke="#2a2a32" stroke-width="0.6"/>
<circle cx="441.9" cy="176.8" r="3" fill="#35356a" stroke="#22223a" stroke-width="0.6"/>
<circle cx="305.7" cy="163.7" r="3" fill="#35356a" stroke="#22223a" stroke-width="0.6"/>
<circle cx="167.2" cy="175.0" r="3" fill="#3a3a44" stroke="#2a2a32" stroke-width="0.6"/>
<circle cx="293.3" cy="175.7" r="3" fill="#3a3a44" stroke="#2a2a32" stroke-width="0.6"/>
<circle cx="281.9" cy="166.8" r="3" fill="#3a3a44" stroke="#2a2a32" stroke-width="0.6"/>
<circle cx="119.2" cy="176.9" r="3" fill="#35356a" stroke="#22223a" stroke-width="0.6"/>
<circle cx="330.8" cy="172.0" r="3" fill="#35356a" stroke="#22223a" stroke-width="0.6"/>
<circle cx="365.9" cy="163.3" r="3" fill="#35356a" stroke="#22223a" stroke-width="0.6"/>
<circle cx="395.2" cy="150.0" r="3" fill="#3a3a44" stroke="#2a2a32" stroke-width="0.6"/>
<circle cx="246.6" cy="171.6" r="3" fill="#3a3a44" stroke="#2a2a32" stroke-width="0.6"/>
<circle cx="291.5" cy="170.6" r="3" fill="#35356a" stroke="#22223a" stroke-width="0.6"/>
<circle cx="156.2" cy="171.5" r="3" fill="#3a3a44" stroke="#2a2a32" stroke-width="0.6"/>
<circle cx="323.5" cy="170.1" r="3" fill="#35356a" stroke="#22223a" stroke-width="0.6"/>
<circle cx="103.6" cy="175.9" r="3" fill="#35356a" stroke="#22223a" stroke-width="0.6"/>
<circle cx="247.4" cy="173.3" r="3" fill="#35356a" stroke="#22223a" stroke-width="0.6"/>
<circle cx="344.5" cy="172.6" r="3" fill="#35356a" stroke="#22223a" stroke-width="0.6"/>
<circle cx="254.5" cy="176.9" r="3" fill="#35356a" stroke="#22223a" stroke-width="0.6"/>
<circle cx="417.9" cy="168.2" r="3" fill="#3a3a44" stroke="#2a2a32" stroke-width="0.6"/>
<circle cx="289.9" cy="176.0" r="3" fill="#35356a" stroke="#22223a" stroke-width="0.6"/>
<circle cx="271.8" cy="172.8" r="3" fill="#35356a" stroke="#22223a" stroke-width="0.6"/>
<circle cx="181.4" cy="149.9" r="3" fill="#35356a" stroke="#22223a" stroke-width="0.6"/>
<circle cx="437.8" cy="173.0" r="3" fill="#35356a" stroke="#22223a" stroke-width="0.6"/>
<circle cx="372.2" cy="165.1" r="3" fill="#35356a" stroke="#22223a" stroke-width="0.6"/>
<circle cx="70.4" cy="158.6" r="3" fill="#3a3a44" stroke="#2a2a32" stroke-width="0.6"/>
<circle cx="261.9" cy="166.4" r="3" fill="#3a3a44" stroke="#2a2a32" stroke-width="0.6"/>
<circle cx="347.0" cy="168.4" r="3" fill="#3a3a44" stroke="#2a2a32" stroke-width="0.6"/>
<circle cx="175.0" cy="163.7" r="3" fill="#3a3a44" stroke="#2a2a32" stroke-width="0.6"/>
<circle cx="69.8" cy="175.1" r="3" fill="#35356a" stroke="#22223a" stroke-width="0.6"/>
<circle cx="334.1" cy="176.0" r="3" fill="#3a3a44" stroke="#2a2a32" stroke-width="0.6"/>
<circle cx="395.8" cy="155.3" r="3" fill="#35356a" stroke="#22223a" stroke-width="0.6"/>
<circle cx="290.3" cy="176.1" r="3" fill="#3a3a44" stroke="#2a2a32" stroke-width="0.6"/>
<circle cx="390.1" cy="151.8" r="3" fill="#35356a" stroke="#22223a" stroke-width="0.6"/>
<circle cx="460.3" cy="158.7" r="3" fill="#3a3a44" stroke="#2a2a32" stroke-width="0.6"/>
<circle cx="171.9" cy="164.0" r="3" fill="#3a3a44" stroke="#2a2a32" stroke-width="0.6"/>
<circle cx="435.6" cy="174.3" r="3" fill="#3a3a44" stroke="#2a2a32" stroke-width="0.6"/>
<circle cx="197.3" cy="170.0" r="3" fill="#3a3a44" stroke="#2a2a32" stroke-width="0.6"/>
<circle cx="53.3" cy="176.2" r="3" fill="#3a3a44" stroke="#2a2a32" stroke-width="0.6"/>
<circle cx="260.0" cy="175.8" r="3" fill="#35356a" stroke="#22223a" stroke-width="0.6"/>
<circle cx="248.6" cy="172.0" r="3" fill="#3a3a44" stroke="#2a2a32" stroke-width="0.6"/>
<circle cx="447.8" cy="174.6" r="3" fill="#3a3a44" stroke="#2a2a32" stroke-width="0.6"/>
<circle cx="410.3" cy="167.4" r="3" fill="#3a3a44" stroke="#2a2a32" stroke-width="0.6"/>
<circle cx="115.6" cy="176.5" r="3" fill="#35356a" stroke="#22223a" stroke-width="0.6"/>
<circle cx="128.9" cy="170.0" r="3" fill="#3a3a44" stroke="#2a2a32" stroke-width="0.6"/>
<circle cx="429.0" cy="162.8" r="3" fill="#3a3a44" stroke="#2a2a32" stroke-width="0.6"/>
<circle cx="360.7" cy="164.0" r="3" fill="#35356a" stroke="#22223a" stroke-width="0.6"/>
<circle cx="424.3" cy="172.7" r="3" fill="#3a3a44" stroke="#2a2a32" stroke-width="0.6"/>
<circle cx="347.5" cy="175.9" r="3" fill="#3a3a44" stroke="#2a2a32" stroke-width="0.6"/>
<circle cx="74.5" cy="161.4" r="3" fill="#3a3a44" stroke="#2a2a32" stroke-width="0.6"/>
<circle cx="353.9" cy="161.7" r="3" fill="#3a3a44" stroke="#2a2a32" stroke-width="0.6"/>
<circle cx="143.7" cy="169.4" r="3" fill="#35356a" stroke="#22223a" stroke-width="0.6"/>
<circle cx="204.3" cy="172.0" r="3" fill="#35356a" stroke="#22223a" stroke-width="0.6"/>
<circle cx="300.5" cy="165.9" r="3" fill="#3a3a44" stroke="#2a2a32" stroke-width="0.6"/>
<circle cx="449.6" cy="168.2" r="3" fill="#3a3a44" stroke="#2a2a32" stroke-width="0.6"/>
<circle cx="322.7" cy="170.7" r="3" fill="#35356a" stroke="#22223a" stroke-width="0.6"/>
<circle cx="234.4" cy="174.0" r="3" fill="#35356a" stroke="#22223a" stroke-width="0.6"/>
<circle cx="59.6" cy="171.0" r="3" fill="#3a3a44" stroke="#2a2a32" stroke-width="0.6"/>
<circle cx="150.5" cy="174.4" r="3" fill="#3a3a44" stroke="#2a2a32" stroke-width="0.6"/>
<circle cx="165.7" cy="172.3" r="3" fill="#3a3a44" stroke="#2a2a32" stroke-width="0.6"/>
<circle cx="163.0" cy="168.5" r="3" fill="#3a3a44" stroke="#2a2a32" stroke-width="0.6"/>
<circle cx="436.4" cy="176.8" r="3" fill="#3a3a44" stroke="#2a2a32" stroke-width="0.6"/>
<circle cx="243.8" cy="175.4" r="3" fill="#3a3a44" stroke="#2a2a32" stroke-width="0.6"/>
<circle cx="450.7" cy="163.8" r="3" fill="#3a3a44" stroke="#2a2a32" stroke-width="0.6"/>
<circle cx="285.5" cy="171.9" r="3" fill="#3a3a44" stroke="#2a2a32" stroke-width="0.6"/>
<circle cx="330.8" cy="175.4" r="3" fill="#35356a" stroke="#22223a" stroke-width="0.6"/>
<circle cx="263.2" cy="174.6" r="3" fill="#35356a" stroke="#22223a" stroke-width="0.6"/>
<circle cx="269.8" cy="176.7" r="3" fill="#3a3a44" stroke="#2a2a32" stroke-width="0.6"/>
<circle cx="384.5" cy="153.4" r="3" fill="#35356a" stroke="#22223a" stroke-width="0.6"/>
<circle cx="143.6" cy="164.3" r="3" fill="#35356a" stroke="#22223a" stroke-width="0.6"/>
<circle cx="387.6" cy="171.4" r="3" fill="#3a3a44" stroke="#2a2a32" stroke-width="0.6"/>
<circle cx="255.9" cy="160.4" r="3" fill="#35356a" stroke="#22223a" stroke-width="0.6"/>
<circle cx="260.3" cy="159.1" r="3" fill="#35356a" stroke="#22223a" stroke-width="0.6"/>
<circle cx="355.8" cy="168.9" r="3" fill="#35356a" stroke="#22223a" stroke-width="0.6"/>
<circle cx="119.2" cy="169.2" r="3" fill="#3a3a44" stroke="#2a2a32" stroke-width="0.6"/>
<circle cx="259.0" cy="166.0" r="3" fill="#3a3a44" stroke="#2a2a32" stroke-width="0.6"/>
<circle cx="155.9" cy="174.4" r="3" fill="#3a3a44" stroke="#2a2a32" stroke-width="0.6"/>
<circle cx="441.0" cy="166.9" r="3" fill="#35356a" stroke="#22223a" stroke-width="0.6"/>
<circle cx="389.8" cy="155.4" r="3" fill="#3a3a44" stroke="#2a2a32" stroke-width="0.6"/>
<circle cx="177.1" cy="150.5" r="3" fill="#3a3a44" stroke="#2a2a32" stroke-width="0.6"/>
<circle cx="314.4" cy="172.1" r="3" fill="#3a3a44" stroke="#2a2a32" stroke-width="0.6"/>
<circle cx="300.0" cy="163.7" r="3" fill="#35356a" stroke="#22223a" stroke-width="0.6"/>
<circle cx="115.4" cy="173.5" r="3" fill="#3a3a44" stroke="#2a2a32" stroke-width="0.6"/>
<circle cx="345.1" cy="173.9" r="3" fill="#35356a" stroke="#22223a" stroke-width="0.6"/>
<circle cx="66.6" cy="165.1" r="3" fill="#3a3a44" stroke="#2a2a32" stroke-width="0.6"/>
<circle cx="135.2" cy="176.6" r="3" fill="#3a3a44" stroke="#2a2a32" stroke-width="0.6"/>
<circle cx="256.1" cy="171.9" r="3" fill="#35356a" stroke="#22223a" stroke-width="0.6"/>
<circle cx="103.5" cy="162.8" r="3" fill="#35356a" stroke="#22223a" stroke-width="0.6"/>
<circle cx="56.9" cy="169.3" r="3" fill="#35356a" stroke="#22223a" stroke-width="0.6"/>
<circle cx="102.1" cy="162.0" r="3" fill="#3a3a44" stroke="#2a2a32" stroke-width="0.6"/>
<circle cx="227.3" cy="166.2" r="3" fill="#3a3a44" stroke="#2a2a32" stroke-width="0.6"/>
<circle cx="480.3" cy="170.5" r="3" fill="#35356a" stroke="#22223a" stroke-width="0.6"/>
<circle cx="141.2" cy="160.7" r="3" fill="#35356a" stroke="#22223a" stroke-width="0.6"/>
<circle cx="146.4" cy="166.3" r="3" fill="#35356a" stroke="#22223a" stroke-width="0.6"/>
<circle cx="200.6" cy="165.7" r="3" fill="#35356a" stroke="#22223a" stroke-width="0.6"/>
<circle cx="309.8" cy="167.4" r="3" fill="#3a3a44" stroke="#2a2a32" stroke-width="0.6"/>
<circle cx="327.0" cy="170.2" r="3" fill="#3a3a44" stroke="#2a2a32" stroke-width="0.6"/>
<circle cx="346.9" cy="174.5" r="3" fill="#35356a" stroke="#22223a" stroke-width="0.6"/>
<circle cx="431.7" cy="169.0" r="3" fill="#3a3a44" stroke="#2a2a32" stroke-width="0.6"/>
<circle cx="412.5" cy="167.8" r="3" fill="#35356a" stroke="#22223a" stroke-width="0.6"/>
<circle cx="134.8" cy="167.5" r="3" fill="#3a3a44" stroke="#2a2a32" stroke-width="0.6"/>
<circle cx="282.7" cy="166.1" r="3" fill="#3a3a44" stroke="#2a2a32" stroke-width="0.6"/>
<circle cx="134.4" cy="169.1" r="3" fill="#3a3a44" stroke="#2a2a32" stroke-width="0.6"/>
<circle cx="237.3" cy="177.0" r="3" fill="#35356a" stroke="#22223a" stroke-width="0.6"/>
<circle cx="421.3" cy="165.1" r="3" fill="#3a3a44" stroke="#2a2a32" stroke-width="0.6"/>
<circle cx="71.7" cy="170.6" r="3" fill="#3a3a44" stroke="#2a2a32" stroke-width="0.6"/>
<circle cx="161.0" cy="161.1" r="3" fill="#3a3a44" stroke="#2a2a32" stroke-width="0.6"/>
<circle cx="155.6" cy="169.3" r="3" fill="#35356a" stroke="#22223a" stroke-width="0.6"/>
<circle cx="356.0" cy="163.1" r="3" fill="#3a3a44" stroke="#2a2a32" stroke-width="0.6"/>
<circle cx="107.4" cy="175.4" r="3" fill="#3a3a44" stroke="#2a2a32" stroke-width="0.6"/>
<circle cx="378.3" cy="171.7" r="3" fill="#35356a" stroke="#22223a" stroke-width="0.6"/>
<circle cx="48.5" cy="170.0" r="3" fill="#3a3a44" stroke="#2a2a32" stroke-width="0.6"/>
<circle cx="76.3" cy="174.7" r="3" fill="#3a3a44" stroke="#2a2a32" stroke-width="0.6"/>
<circle cx="380.5" cy="165.7" r="3" fill="#3a3a44" stroke="#2a2a32" stroke-width="0.6"/>
<circle cx="213.8" cy="170.6" r="3" fill="#3a3a44" stroke="#2a2a32" stroke-width="0.6"/>
<circle cx="106.3" cy="166.2" r="3" fill="#3a3a44" stroke="#2a2a32" stroke-width="0.6"/>
<circle cx="177.7" cy="160.9" r="3" fill="#35356a" stroke="#22223a" stroke-width="0.6"/>
<circle cx="99.7" cy="170.1" r="3" fill="#3a3a44" stroke="#2a2a32" stroke-width="0.6"/>
<circle cx="360.5" cy="170.7" r="3" fill="#3a3a44" stroke="#2a2a32" stroke-width="0.6"/>
<circle cx="130.1" cy="164.0" r="3" fill="#35356a" stroke="#22223a" stroke-width="0.6"/>
<circle cx="218.8" cy="171.6" r="3" fill="#35356a" stroke="#22223a" stroke-width="0.6"/>
<circle cx="139.5" cy="164.1" r="3" fill="#3a3a44" stroke="#2a2a32" stroke-width="0.6"/>
<circle cx="135.0" cy="163.2" r="3" fill="#3a3a44" stroke="#2a2a32" stroke-width="0.6"/>
<circle cx="318.4" cy="174.1" r="3" fill="#35356a" stroke="#22223a" stroke-width="0.6"/>
<circle cx="471.2" cy="159.1" r="3" fill="#35356a" stroke="#22223a" stroke-width="0.6"/>
<circle cx="446.2" cy="159.7" r="3" fill="#35356a" stroke="#22223a" stroke-width="0.6"/>
<circle cx="334.5" cy="176.7" r="3" fill="#35356a" stroke="#22223a" stroke-width="0.6"/>
<circle cx="143.3" cy="168.5" r="3" fill="#3a3a44" stroke="#2a2a32" stroke-width="0.6"/>
<circle cx="228.8" cy="170.0" r="3" fill="#3a3a44" stroke="#2a2a32" stroke-width="0.6"/>
<circle cx="209.1" cy="168.6" r="3" fill="#3a3a44" stroke="#2a2a32" stroke-width="0.6"/>
<circle cx="163.3" cy="161.2" r="3" fill="#3a3a44" stroke="#2a2a32" stroke-width="0.6"/>
<circle cx="249.8" cy="162.8" r="3" fill="#35356a" stroke="#22223a" stroke-width="0.6"/>
<circle cx="145.6" cy="158.2" r="3" fill="#3a3a44" stroke="#2a2a32" stroke-width="0.6"/>
<circle cx="226.4" cy="166.9" r="3" fill="#35356a" stroke="#22223a" stroke-width="0.6"/>
<circle cx="349.9" cy="168.4" r="3" fill="#35356a" stroke="#22223a" stroke-width="0.6"/>
<circle cx="49.7" cy="171.2" r="3" fill="#3a3a44" stroke="#2a2a32" stroke-width="0.6"/>
<circle cx="67.4" cy="164.8" r="3" fill="#3a3a44" stroke="#2a2a32" stroke-width="0.6"/>
<circle cx="258.8" cy="168.9" r="3" fill="#3a3a44" stroke="#2a2a32" stroke-width="0.6"/>
<circle cx="183.5" cy="156.1" r="3" fill="#3a3a44" stroke="#2a2a32" stroke-width="0.6"/>
<circle cx="193.1" cy="174.2" r="3" fill="#35356a" stroke="#22223a" stroke-width="0.6"/>
<circle cx="155.4" cy="172.8" r="3" fill="#3a3a44" stroke="#2a2a32" stroke-width="0.6"/>
<circle cx="247.1" cy="174.6" r="3" fill="#35356a" stroke="#22223a" stroke-width="0.6"/>
<circle cx="200.0" cy="169.8" r="3" fill="#35356a" stroke="#22223a" stroke-width="0.6"/>
<circle cx="380.9" cy="167.9" r="3" fill="#35356a" stroke="#22223a" stroke-width="0.6"/>
<circle cx="221.3" cy="171.2" r="3" fill="#3a3a44" stroke="#2a2a32" stroke-width="0.6"/>
<circle cx="406.6" cy="175.2" r="3" fill="#3a3a44" stroke="#2a2a32" stroke-width="0.6"/>
<circle cx="442.0" cy="154.4" r="3" fill="#3a3a44" stroke="#2a2a32" stroke-width="0.6"/>
<circle cx="263.9" cy="167.4" r="3" fill="#3a3a44" stroke="#2a2a32" stroke-width="0.6"/>
<circle cx="471.8" cy="154.1" r="3" fill="#3a3a44" stroke="#2a2a32" stroke-width="0.6"/>
<circle cx="140.6" cy="170.4" r="3" fill="#3a3a44" stroke="#2a2a32" stroke-width="0.6"/>
<circle cx="39.9" cy="170.8" r="3" fill="#3a3a44" stroke="#2a2a32" stroke-width="0.6"/>
<circle cx="145.4" cy="166.4" r="3" fill="#35356a" stroke="#22223a" stroke-width="0.6"/>
<circle cx="282.0" cy="172.7" r="3" fill="#35356a" stroke="#22223a" stroke-width="0.6"/>
<circle cx="407.3" cy="176.5" r="3" fill="#3a3a44" stroke="#2a2a32" stroke-width="0.6"/>
<circle cx="192.9" cy="174.0" r="3" fill="#3a3a44" stroke="#2a2a32" stroke-width="0.6"/>
<circle cx="356.3" cy="171.2" r="3" fill="#35356a" stroke="#22223a" stroke-width="0.6"/>
<circle cx="466.0" cy="173.8" r="3" fill="#3a3a44" stroke="#2a2a32" stroke-width="0.6"/>
<circle cx="314.6" cy="171.6" r="3" fill="#35356a" stroke="#22223a" stroke-width="0.6"/>
<circle cx="203.0" cy="164.9" r="3" fill="#35356a" stroke="#22223a" stroke-width="0.6"/>
<circle cx="275.8" cy="169.0" r="3" fill="#3a3a44" stroke="#2a2a32" stroke-width="0.6"/>
<circle cx="183.3" cy="153.9" r="3" fill="#35356a" stroke="#22223a" stroke-width="0.6"/>
<circle cx="95.3" cy="157.0" r="3" fill="#3a3a44" stroke="#2a2a32" stroke-width="0.6"/>
<circle cx="84.7" cy="169.7" r="3" fill="#3a3a44" stroke="#2a2a32" stroke-width="0.6"/>
<circle cx="239.3" cy="175.6" r="3" fill="#3a3a44" stroke="#2a2a32" stroke-width="0.6"/>
<circle cx="111.4" cy="175.4" r="3" fill="#35356a" stroke="#22223a" stroke-width="0.6"/>
<circle cx="63.1" cy="163.3" r="3" fill="#35356a" stroke="#22223a" stroke-width="0.6"/>
<circle cx="391.9" cy="158.2" r="3" fill="#35356a" stroke="#22223a" stroke-width="0.6"/>
<circle cx="150.9" cy="173.2" r="3" fill="#3a3a44" stroke="#2a2a32" stroke-width="0.6"/>
<circle cx="187.2" cy="170.3" r="3" fill="#35356a" stroke="#22223a" stroke-width="0.6"/>
<circle cx="406.1" cy="170.6" r="3" fill="#3a3a44" stroke="#2a2a32" stroke-width="0.6"/>
<circle cx="352.3" cy="169.8" r="3" fill="#35356a" stroke="#22223a" stroke-width="0.6"/>
<circle cx="394.0" cy="152.1" r="3" fill="#3a3a44" stroke="#2a2a32" stroke-width="0.6"/>
<circle cx="335.7" cy="168.1" r="3" fill="#3a3a44" stroke="#2a2a32" stroke-width="0.6"/>
<circle cx="45.6" cy="172.0" r="3" fill="#35356a" stroke="#22223a" stroke-width="0.6"/>
<circle cx="468.9" cy="159.3" r="3" fill="#35356a" stroke="#22223a" stroke-width="0.6"/>
<circle cx="225.0" cy="172.5" r="3" fill="#3a3a44" stroke="#2a2a32" stroke-width="0.6"/>
<circle cx="452.5" cy="176.7" r="3" fill="#3a3a44" stroke="#2a2a32" stroke-width="0.6"/>
<circle cx="355.1" cy="160.2" r="3" fill="#3a3a44" stroke="#2a2a32" stroke-width="0.6"/>
<circle cx="166.1" cy="171.8" r="3" fill="#35356a" stroke="#22223a" stroke-width="0.6"/>
<circle cx="92.7" cy="161.9" r="3" fill="#3a3a44" stroke="#2a2a32" stroke-width="0.6"/>
<circle cx="279.6" cy="172.8" r="3" fill="#3a3a44" stroke="#2a2a32" stroke-width="0.6"/>
<circle cx="176.3" cy="171.7" r="3" fill="#35356a" stroke="#22223a" stroke-width="0.6"/>
<circle cx="165.1" cy="165.3" r="3" fill="#35356a" stroke="#22223a" stroke-width="0.6"/>
<circle cx="378.2" cy="176.6" r="3" fill="#3a3a44" stroke="#2a2a32" stroke-width="0.6"/>
<circle cx="346.6" cy="168.7" r="3" fill="#35356a" stroke="#22223a" stroke-width="0.6"/>
<circle cx="104.5" cy="154.9" r="3" fill="#3a3a44" stroke="#2a2a32" stroke-width="0.6"/>
<circle cx="452.6" cy="157.3" r="3" fill="#3a3a44" stroke="#2a2a32" stroke-width="0.6"/>
<circle cx="92.8" cy="161.8" r="3" fill="#3a3a44" stroke="#2a2a32" stroke-width="0.6"/>
<circle cx="289.9" cy="168.1" r="3" fill="#35356a" stroke="#22223a" stroke-width="0.6"/>
<circle cx="160.8" cy="165.2" r="3" fill="#3a3a44" stroke="#2a2a32" stroke-width="0.6"/>
<circle cx="201.4" cy="164.4" r="3" fill="#3a3a44" stroke="#2a2a32" stroke-width="0.6"/>
<circle cx="68.0" cy="174.8" r="3" fill="#3a3a44" stroke="#2a2a32" stroke-width="0.6"/>
<circle cx="74.2" cy="160.5" r="3" fill="#3a3a44" stroke="#2a2a32" stroke-width="0.6"/>
<circle cx="480.7" cy="155.3" r="3" fill="#35356a" stroke="#22223a" stroke-width="0.6"/>
<circle cx="253.8" cy="165.3" r="3" fill="#35356a" stroke="#22223a" stroke-width="0.6"/>
<circle cx="214.7" cy="169.3" r="3" fill="#35356a" stroke="#22223a" stroke-width="0.6"/>
<circle cx="330.2" cy="174.3" r="3" fill="#3a3a44" stroke="#2a2a32" stroke-width="0.6"/>
<circle cx="455.0" cy="174.7" r="3" fill="#35356a" stroke="#22223a" stroke-width="0.6"/>
<circle cx="235.6" cy="176.0" r="3" fill="#35356a" stroke="#22223a" stroke-width="0.6"/>
<circle cx="117.3" cy="170.6" r="3" fill="#3a3a44" stroke="#2a2a32" stroke-width="0.6"/>
<circle cx="92.1" cy="155.7" r="3" fill="#3a3a44" stroke="#2a2a32" stroke-width="0.6"/>
<circle cx="373.0" cy="165.3" r="3" fill="#35356a" stroke="#22223a" stroke-width="0.6"/>
<circle cx="44.1" cy="167.5" r="3" fill="#35356a" stroke="#22223a" stroke-width="0.6"/>
<circle cx="44.4" cy="171.3" r="3" fill="#35356a" stroke="#22223a" stroke-width="0.6"/>
<circle cx="39.5" cy="180.3" r="3" fill="#363666" stroke="#24243c" stroke-width="0.6"/>
<circle cx="41.7" cy="180.6" r="3" fill="#363666" stroke="#24243c" stroke-width="0.6"/>
<circle cx="43.9" cy="180.5" r="3" fill="#363666" stroke="#24243c" stroke-width="0.6"/>
<circle cx="46.4" cy="180.0" r="3" fill="#363666" stroke="#24243c" stroke-width="0.6"/>
<circle cx="49.3" cy="179.9" r="3" fill="#363666" stroke="#24243c" stroke-width="0.6"/>
<circle cx="51.9" cy="180.0" r="3" fill="#363666" stroke="#24243c" stroke-width="0.6"/>
<circle cx="54.1" cy="180.4" r="3" fill="#363666" stroke="#24243c" stroke-width="0.6"/>
<circle cx="57.4" cy="180.0" r="3" fill="#363666" stroke="#24243c" stroke-width="0.6"/>
<circle cx="59.8" cy="180.6" r="3" fill="#363666" stroke="#24243c" stroke-width="0.6"/>
<circle cx="63.3" cy="180.5" r="3" fill="#363666" stroke="#24243c" stroke-width="0.6"/>
<circle cx="65.9" cy="181.0" r="3" fill="#363666" stroke="#24243c" stroke-width="0.6"/>
<circle cx="68.0" cy="180.8" r="3" fill="#363666" stroke="#24243c" stroke-width="0.6"/>
<circle cx="70.5" cy="180.1" r="3" fill="#363666" stroke="#24243c" stroke-width="0.6"/>
<circle cx="72.7" cy="180.2" r="3" fill="#363666" stroke="#24243c" stroke-width="0.6"/>
<circle cx="76.0" cy="180.1" r="3" fill="#363666" stroke="#24243c" stroke-width="0.6"/>
<circle cx="78.9" cy="180.6" r="3" fill="#363666" stroke="#24243c" stroke-width="0.6"/>
<circle cx="81.5" cy="180.5" r="3" fill="#363666" stroke="#24243c" stroke-width="0.6"/>
<circle cx="83.6" cy="180.0" r="3" fill="#363666" stroke="#24243c" stroke-width="0.6"/>
<circle cx="85.9" cy="180.6" r="3" fill="#363666" stroke="#24243c" stroke-width="0.6"/>
<circle cx="88.6" cy="180.2" r="3" fill="#363666" stroke="#24243c" stroke-width="0.6"/>
<circle cx="91.5" cy="180.4" r="3" fill="#363666" stroke="#24243c" stroke-width="0.6"/>
<circle cx="94.0" cy="180.8" r="3" fill="#363666" stroke="#24243c" stroke-width="0.6"/>
<circle cx="97.1" cy="180.2" r="3" fill="#363666" stroke="#24243c" stroke-width="0.6"/>
<circle cx="100.1" cy="180.5" r="3" fill="#363666" stroke="#24243c" stroke-width="0.6"/>
<circle cx="103.5" cy="180.7" r="3" fill="#363666" stroke="#24243c" stroke-width="0.6"/>
<circle cx="105.9" cy="181.0" r="3" fill="#363666" stroke="#24243c" stroke-width="0.6"/>
<circle cx="108.1" cy="180.4" r="3" fill="#363666" stroke="#24243c" stroke-width="0.6"/>
<circle cx="111.3" cy="180.1" r="3" fill="#363666" stroke="#24243c" stroke-width="0.6"/>
<circle cx="114.1" cy="179.9" r="3" fill="#363666" stroke="#24243c" stroke-width="0.6"/>
<circle cx="117.2" cy="180.7" r="3" fill="#363666" stroke="#24243c" stroke-width="0.6"/>
<circle cx="120.1" cy="180.9" r="3" fill="#363666" stroke="#24243c" stroke-width="0.6"/>
<circle cx="122.6" cy="180.7" r="3" fill="#363666" stroke="#24243c" stroke-width="0.6"/>
<circle cx="125.5" cy="180.5" r="3" fill="#363666" stroke="#24243c" stroke-width="0.6"/>
<circle cx="128.3" cy="180.8" r="3" fill="#363666" stroke="#24243c" stroke-width="0.6"/>
<circle cx="131.8" cy="180.4" r="3" fill="#363666" stroke="#24243c" stroke-width="0.6"/>
<circle cx="134.8" cy="180.0" r="3" fill="#363666" stroke="#24243c" stroke-width="0.6"/>
<circle cx="138.0" cy="180.6" r="3" fill="#363666" stroke="#24243c" stroke-width="0.6"/>
<circle cx="141.5" cy="180.8" r="3" fill="#363666" stroke="#24243c" stroke-width="0.6"/>
<circle cx="144.0" cy="180.3" r="3" fill="#363666" stroke="#24243c" stroke-width="0.6"/>
<circle cx="147.1" cy="179.9" r="3" fill="#363666" stroke="#24243c" stroke-width="0.6"/>
<circle cx="149.8" cy="180.1" r="3" fill="#363666" stroke="#24243c" stroke-width="0.6"/>
<circle cx="152.0" cy="180.0" r="3" fill="#363666" stroke="#24243c" stroke-width="0.6"/>
<circle cx="155.2" cy="180.0" r="3" fill="#363666" stroke="#24243c" stroke-width="0.6"/>
<circle cx="157.6" cy="180.3" r="3" fill="#363666" stroke="#24243c" stroke-width="0.6"/>
<circle cx="161.0" cy="180.0" r="3" fill="#363666" stroke="#24243c" stroke-width="0.6"/>
<circle cx="163.7" cy="180.5" r="3" fill="#363666" stroke="#24243c" stroke-width="0.6"/>
<circle cx="167.2" cy="180.8" r="3" fill="#363666" stroke="#24243c" stroke-width="0.6"/>
<circle cx="170.5" cy="180.2" r="3" fill="#363666" stroke="#24243c" stroke-width="0.6"/>
<circle cx="173.2" cy="180.3" r="3" fill="#363666" stroke="#24243c" stroke-width="0.6"/>
<circle cx="176.6" cy="181.0" r="3" fill="#363666" stroke="#24243c" stroke-width="0.6"/>
<circle cx="178.9" cy="180.1" r="3" fill="#363666" stroke="#24243c" stroke-width="0.6"/>
<circle cx="181.2" cy="180.2" r="3" fill="#363666" stroke="#24243c" stroke-width="0.6"/>
<circle cx="184.0" cy="180.5" r="3" fill="#363666" stroke="#24243c" stroke-width="0.6"/>
<circle cx="186.4" cy="179.9" r="3" fill="#363666" stroke="#24243c" stroke-width="0.6"/>
<circle cx="189.1" cy="180.3" r="3" fill="#363666" stroke="#24243c" stroke-width="0.6"/>
<circle cx="192.0" cy="180.9" r="3" fill="#363666" stroke="#24243c" stroke-width="0.6"/>
<circle cx="195.1" cy="180.5" r="3" fill="#363666" stroke="#24243c" stroke-width="0.6"/>
<circle cx="198.1" cy="180.6" r="3" fill="#363666" stroke="#24243c" stroke-width="0.6"/>
<circle cx="200.2" cy="180.9" r="3" fill="#363666" stroke="#24243c" stroke-width="0.6"/>
<circle cx="203.4" cy="180.9" r="3" fill="#363666" stroke="#24243c" stroke-width="0.6"/>
<circle cx="206.7" cy="180.3" r="3" fill="#363666" stroke="#24243c" stroke-width="0.6"/>
<circle cx="209.3" cy="180.0" r="3" fill="#363666" stroke="#24243c" stroke-width="0.6"/>
<circle cx="212.4" cy="180.0" r="3" fill="#363666" stroke="#24243c" stroke-width="0.6"/>
<circle cx="214.5" cy="180.1" r="3" fill="#363666" stroke="#24243c" stroke-width="0.6"/>
<circle cx="216.7" cy="180.3" r="3" fill="#363666" stroke="#24243c" stroke-width="0.6"/>
<circle cx="218.8" cy="179.9" r="3" fill="#363666" stroke="#24243c" stroke-width="0.6"/>
<circle cx="221.0" cy="180.0" r="3" fill="#363666" stroke="#24243c" stroke-width="0.6"/>
<circle cx="223.6" cy="179.9" r="3" fill="#363666" stroke="#24243c" stroke-width="0.6"/>
<circle cx="227.0" cy="180.6" r="3" fill="#363666" stroke="#24243c" stroke-width="0.6"/>
<circle cx="229.3" cy="180.2" r="3" fill="#363666" stroke="#24243c" stroke-width="0.6"/>
<circle cx="231.8" cy="180.3" r="3" fill="#363666" stroke="#24243c" stroke-width="0.6"/>
<circle cx="234.0" cy="180.8" r="3" fill="#363666" stroke="#24243c" stroke-width="0.6"/>
<circle cx="237.6" cy="180.4" r="3" fill="#363666" stroke="#24243c" stroke-width="0.6"/>
<circle cx="240.4" cy="180.0" r="3" fill="#363666" stroke="#24243c" stroke-width="0.6"/>
<circle cx="242.5" cy="180.3" r="3" fill="#363666" stroke="#24243c" stroke-width="0.6"/>
<circle cx="245.0" cy="180.8" r="3" fill="#363666" stroke="#24243c" stroke-width="0.6"/>
<circle cx="247.2" cy="179.9" r="3" fill="#363666" stroke="#24243c" stroke-width="0.6"/>
<circle cx="250.8" cy="180.5" r="3" fill="#363666" stroke="#24243c" stroke-width="0.6"/>
<circle cx="253.0" cy="180.5" r="3" fill="#363666" stroke="#24243c" stroke-width="0.6"/>
<circle cx="255.0" cy="180.5" r="3" fill="#363666" stroke="#24243c" stroke-width="0.6"/>
<circle cx="258.6" cy="180.8" r="3" fill="#363666" stroke="#24243c" stroke-width="0.6"/>
<circle cx="261.7" cy="180.2" r="3" fill="#363666" stroke="#24243c" stroke-width="0.6"/>
<circle cx="264.3" cy="180.1" r="3" fill="#363666" stroke="#24243c" stroke-width="0.6"/>
<circle cx="267.5" cy="180.5" r="3" fill="#363666" stroke="#24243c" stroke-width="0.6"/>
<circle cx="270.8" cy="180.3" r="3" fill="#363666" stroke="#24243c" stroke-width="0.6"/>
<circle cx="273.1" cy="180.8" r="3" fill="#363666" stroke="#24243c" stroke-width="0.6"/>
<circle cx="276.7" cy="180.8" r="3" fill="#363666" stroke="#24243c" stroke-width="0.6"/>
<circle cx="280.0" cy="180.8" r="3" fill="#363666" stroke="#24243c" stroke-width="0.6"/>
<circle cx="283.2" cy="180.1" r="3" fill="#363666" stroke="#24243c" stroke-width="0.6"/>
<circle cx="286.0" cy="180.3" r="3" fill="#363666" stroke="#24243c" stroke-width="0.6"/>
<circle cx="288.1" cy="179.9" r="3" fill="#363666" stroke="#24243c" stroke-width="0.6"/>
<circle cx="290.5" cy="180.2" r="3" fill="#363666" stroke="#24243c" stroke-width="0.6"/>
<circle cx="293.6" cy="181.0" r="3" fill="#363666" stroke="#24243c" stroke-width="0.6"/>
<circle cx="296.3" cy="180.9" r="3" fill="#363666" stroke="#24243c" stroke-width="0.6"/>
<circle cx="299.9" cy="181.0" r="3" fill="#363666" stroke="#24243c" stroke-width="0.6"/>
<circle cx="302.5" cy="180.1" r="3" fill="#363666" stroke="#24243c" stroke-width="0.6"/>
<circle cx="304.9" cy="180.1" r="3" fill="#363666" stroke="#24243c" stroke-width="0.6"/>
<circle cx="307.2" cy="180.6" r="3" fill="#363666" stroke="#24243c" stroke-width="0.6"/>
<circle cx="310.6" cy="180.8" r="3" fill="#363666" stroke="#24243c" stroke-width="0.6"/>
<circle cx="313.4" cy="180.6" r="3" fill="#363666" stroke="#24243c" stroke-width="0.6"/>
<circle cx="316.7" cy="180.0" r="3" fill="#363666" stroke="#24243c" stroke-width="0.6"/>
<circle cx="319.7" cy="180.9" r="3" fill="#363666" stroke="#24243c" stroke-width="0.6"/>
<circle cx="323.0" cy="180.7" r="3" fill="#363666" stroke="#24243c" stroke-width="0.6"/>
<circle cx="325.7" cy="180.1" r="3" fill="#363666" stroke="#24243c" stroke-width="0.6"/>
<circle cx="329.0" cy="180.3" r="3" fill="#363666" stroke="#24243c" stroke-width="0.6"/>
<circle cx="332.3" cy="181.0" r="3" fill="#363666" stroke="#24243c" stroke-width="0.6"/>
<circle cx="334.9" cy="180.3" r="3" fill="#363666" stroke="#24243c" stroke-width="0.6"/>
<circle cx="338.4" cy="180.7" r="3" fill="#363666" stroke="#24243c" stroke-width="0.6"/>
<circle cx="340.7" cy="180.0" r="3" fill="#363666" stroke="#24243c" stroke-width="0.6"/>
<circle cx="342.9" cy="180.9" r="3" fill="#363666" stroke="#24243c" stroke-width="0.6"/>
<circle cx="346.2" cy="180.1" r="3" fill="#363666" stroke="#24243c" stroke-width="0.6"/>
<circle cx="349.6" cy="181.0" r="3" fill="#363666" stroke="#24243c" stroke-width="0.6"/>
<circle cx="352.6" cy="180.3" r="3" fill="#363666" stroke="#24243c" stroke-width="0.6"/>
<circle cx="355.5" cy="180.0" r="3" fill="#363666" stroke="#24243c" stroke-width="0.6"/>
<circle cx="357.5" cy="181.0" r="3" fill="#363666" stroke="#24243c" stroke-width="0.6"/>
<circle cx="360.6" cy="180.5" r="3" fill="#363666" stroke="#24243c" stroke-width="0.6"/>
<circle cx="364.0" cy="180.4" r="3" fill="#363666" stroke="#24243c" stroke-width="0.6"/>
<circle cx="367.4" cy="180.8" r="3" fill="#363666" stroke="#24243c" stroke-width="0.6"/>
<circle cx="369.8" cy="180.2" r="3" fill="#363666" stroke="#24243c" stroke-width="0.6"/>
<circle cx="372.2" cy="180.2" r="3" fill="#363666" stroke="#24243c" stroke-width="0.6"/>
<circle cx="375.2" cy="180.2" r="3" fill="#363666" stroke="#24243c" stroke-width="0.6"/>
<circle cx="377.9" cy="180.0" r="3" fill="#363666" stroke="#24243c" stroke-width="0.6"/>
<circle cx="381.3" cy="180.3" r="3" fill="#363666" stroke="#24243c" stroke-width="0.6"/>
<circle cx="384.0" cy="180.5" r="3" fill="#363666" stroke="#24243c" stroke-width="0.6"/>
<circle cx="387.5" cy="180.4" r="3" fill="#363666" stroke="#24243c" stroke-width="0.6"/>
<circle cx="391.0" cy="180.5" r="3" fill="#363666" stroke="#24243c" stroke-width="0.6"/>
<circle cx="393.8" cy="180.5" r="3" fill="#363666" stroke="#24243c" stroke-width="0.6"/>
<circle cx="395.8" cy="180.4" r="3" fill="#363666" stroke="#24243c" stroke-width="0.6"/>
<circle cx="398.1" cy="179.9" r="3" fill="#363666" stroke="#24243c" stroke-width="0.6"/>
<circle cx="401.4" cy="180.1" r="3" fill="#363666" stroke="#24243c" stroke-width="0.6"/>
<circle cx="404.2" cy="180.7" r="3" fill="#363666" stroke="#24243c" stroke-width="0.6"/>
<circle cx="407.1" cy="180.3" r="3" fill="#363666" stroke="#24243c" stroke-width="0.6"/>
<circle cx="409.9" cy="180.5" r="3" fill="#363666" stroke="#24243c" stroke-width="0.6"/>
<circle cx="413.1" cy="180.0" r="3" fill="#363666" stroke="#24243c" stroke-width="0.6"/>
<circle cx="416.0" cy="180.2" r="3" fill="#363666" stroke="#24243c" stroke-width="0.6"/>
<circle cx="418.5" cy="180.7" r="3" fill="#363666" stroke="#24243c" stroke-width="0.6"/>
<circle cx="421.3" cy="180.5" r="3" fill="#363666" stroke="#24243c" stroke-width="0.6"/>
<circle cx="424.5" cy="180.9" r="3" fill="#363666" stroke="#24243c" stroke-width="0.6"/>
<circle cx="427.2" cy="180.6" r="3" fill="#363666" stroke="#24243c" stroke-width="0.6"/>
<circle cx="430.0" cy="180.5" r="3" fill="#363666" stroke="#24243c" stroke-width="0.6"/>
<circle cx="433.1" cy="180.4" r="3" fill="#363666" stroke="#24243c" stroke-width="0.6"/>
<circle cx="436.0" cy="180.4" r="3" fill="#363666" stroke="#24243c" stroke-width="0.6"/>
<circle cx="439.5" cy="180.7" r="3" fill="#363666" stroke="#24243c" stroke-width="0.6"/>
<circle cx="442.9" cy="180.9" r="3" fill="#363666" stroke="#24243c" stroke-width="0.6"/>
<circle cx="445.3" cy="180.5" r="3" fill="#363666" stroke="#24243c" stroke-width="0.6"/>
<circle cx="448.8" cy="180.8" r="3" fill="#363666" stroke="#24243c" stroke-width="0.6"/>
<circle cx="451.0" cy="180.0" r="3" fill="#363666" stroke="#24243c" stroke-width="0.6"/>
<circle cx="453.8" cy="180.0" r="3" fill="#363666" stroke="#24243c" stroke-width="0.6"/>
<circle cx="456.1" cy="180.0" r="3" fill="#363666" stroke="#24243c" stroke-width="0.6"/>
<circle cx="459.2" cy="180.8" r="3" fill="#363666" stroke="#24243c" stroke-width="0.6"/>
<circle cx="462.6" cy="180.1" r="3" fill="#363666" stroke="#24243c" stroke-width="0.6"/>
<circle cx="465.8" cy="180.6" r="3" fill="#363666" stroke="#24243c" stroke-width="0.6"/>
<circle cx="468.0" cy="180.9" r="3" fill="#363666" stroke="#24243c" stroke-width="0.6"/>
<circle cx="471.6" cy="180.1" r="3" fill="#363666" stroke="#24243c" stroke-width="0.6"/>
<circle cx="475.1" cy="180.3" r="3" fill="#363666" stroke="#24243c" stroke-width="0.6"/>
<circle cx="477.9" cy="181.0" r="3" fill="#363666" stroke="#24243c" stroke-width="0.6"/>
<circle cx="481.2" cy="180.1" r="3" fill="#363666" stroke="#24243c" stroke-width="0.6"/>
<circle cx="39.9" cy="162.0" r="3" fill="#343468" stroke="#1c1c34" stroke-width="0.6"/>
<circle cx="39.9" cy="166.1" r="3" fill="#343468" stroke="#1c1c34" stroke-width="0.6"/>
<circle cx="42.6" cy="164.3" r="3" fill="#343468" stroke="#1c1c34" stroke-width="0.6"/>
<circle cx="42.9" cy="167.8" r="3" fill="#343468" stroke="#1c1c34" stroke-width="0.6"/>
<circle cx="46.5" cy="163.5" r="3" fill="#343468" stroke="#1c1c34" stroke-width="0.6"/>
<circle cx="45.7" cy="166.9" r="3" fill="#343468" stroke="#1c1c34" stroke-width="0.6"/>
<circle cx="47.8" cy="166.0" r="3" fill="#343468" stroke="#1c1c34" stroke-width="0.6"/>
<circle cx="48.9" cy="168.2" r="3" fill="#343468" stroke="#1c1c34" stroke-width="0.6"/>
<circle cx="51.8" cy="167.0" r="3" fill="#343468" stroke="#1c1c34" stroke-width="0.6"/>
<circle cx="51.0" cy="171.6" r="3" fill="#343468" stroke="#1c1c34" stroke-width="0.6"/>
<circle cx="54.5" cy="168.4" r="3" fill="#343468" stroke="#1c1c34" stroke-width="0.6"/>
<circle cx="53.2" cy="172.1" r="3" fill="#343468" stroke="#1c1c34" stroke-width="0.6"/>
<circle cx="57.0" cy="165.3" r="3" fill="#343468" stroke="#1c1c34" stroke-width="0.6"/>
<circle cx="57.7" cy="168.0" r="3" fill="#343468" stroke="#1c1c34" stroke-width="0.6"/>
<circle cx="59.3" cy="160.4" r="3" fill="#343468" stroke="#1c1c34" stroke-width="0.6"/>
<circle cx="59.0" cy="163.6" r="3" fill="#343468" stroke="#1c1c34" stroke-width="0.6"/>
<circle cx="62.6" cy="158.5" r="3" fill="#343468" stroke="#1c1c34" stroke-width="0.6"/>
<circle cx="61.7" cy="161.3" r="3" fill="#343468" stroke="#1c1c34" stroke-width="0.6"/>
<circle cx="63.8" cy="156.7" r="3" fill="#343468" stroke="#1c1c34" stroke-width="0.6"/>
<circle cx="64.0" cy="160.9" r="3" fill="#343468" stroke="#1c1c34" stroke-width="0.6"/>
<circle cx="67.2" cy="155.7" r="3" fill="#343468" stroke="#1c1c34" stroke-width="0.6"/>
<circle cx="67.2" cy="159.2" r="3" fill="#343468" stroke="#1c1c34" stroke-width="0.6"/>
<circle cx="70.4" cy="155.4" r="3" fill="#343468" stroke="#1c1c34" stroke-width="0.6"/>
<circle cx="70.0" cy="159.0" r="3" fill="#343468" stroke="#1c1c34" stroke-width="0.6"/>
<circle cx="71.4" cy="154.6" r="3" fill="#343468" stroke="#1c1c34" stroke-width="0.6"/>
<circle cx="72.5" cy="157.9" r="3" fill="#343468" stroke="#1c1c34" stroke-width="0.6"/>
<circle cx="74.8" cy="155.9" r="3" fill="#343468" stroke="#1c1c34" stroke-width="0.6"/>
<circle cx="73.9" cy="158.6" r="3" fill="#343468" stroke="#1c1c34" stroke-width="0.6"/>
<circle cx="76.4" cy="156.2" r="3" fill="#343468" stroke="#1c1c34" stroke-width="0.6"/>
<circle cx="77.6" cy="161.5" r="3" fill="#343468" stroke="#1c1c34" stroke-width="0.6"/>
<circle cx="80.0" cy="154.0" r="3" fill="#343468" stroke="#1c1c34" stroke-width="0.6"/>
<circle cx="78.4" cy="157.6" r="3" fill="#343468" stroke="#1c1c34" stroke-width="0.6"/>
<circle cx="81.5" cy="151.7" r="3" fill="#343468" stroke="#1c1c34" stroke-width="0.6"/>
<circle cx="81.6" cy="154.9" r="3" fill="#343468" stroke="#1c1c34" stroke-width="0.6"/>
<circle cx="83.2" cy="151.2" r="3" fill="#343468" stroke="#1c1c34" stroke-width="0.6"/>
<circle cx="84.1" cy="155.6" r="3" fill="#343468" stroke="#1c1c34" stroke-width="0.6"/>
<circle cx="87.3" cy="150.3" r="3" fill="#343468" stroke="#1c1c34" stroke-width="0.6"/>
<circle cx="86.7" cy="155.0" r="3" fill="#343468" stroke="#1c1c34" stroke-width="0.6"/>
<circle cx="90.2" cy="151.7" r="3" fill="#343468" stroke="#1c1c34" stroke-width="0.6"/>
<circle cx="90.6" cy="155.7" r="3" fill="#343468" stroke="#1c1c34" stroke-width="0.6"/>
<circle cx="92.5" cy="153.6" r="3" fill="#343468" stroke="#1c1c34" stroke-width="0.6"/>
<circle cx="93.6" cy="158.5" r="3" fill="#343468" stroke="#1c1c34" stroke-width="0.6"/>
<circle cx="96.5" cy="154.4" r="3" fill="#343468" stroke="#1c1c34" stroke-width="0.6"/>
<circle cx="95.5" cy="156.3" r="3" fill="#343468" stroke="#1c1c34" stroke-width="0.6"/>
<circle cx="97.8" cy="153.2" r="3" fill="#343468" stroke="#1c1c34" stroke-width="0.6"/>
<circle cx="98.6" cy="157.4" r="3" fill="#343468" stroke="#1c1c34" stroke-width="0.6"/>
<circle cx="100.3" cy="152.1" r="3" fill="#343468" stroke="#1c1c34" stroke-width="0.6"/>
<circle cx="101.1" cy="155.8" r="3" fill="#343468" stroke="#1c1c34" stroke-width="0.6"/>
<circle cx="103.6" cy="149.6" r="3" fill="#343468" stroke="#1c1c34" stroke-width="0.6"/>
<circle cx="102.8" cy="154.1" r="3" fill="#343468" stroke="#1c1c34" stroke-width="0.6"/>
<circle cx="107.0" cy="149.0" r="3" fill="#343468" stroke="#1c1c34" stroke-width="0.6"/>
<circle cx="106.2" cy="153.6" r="3" fill="#343468" stroke="#1c1c34" stroke-width="0.6"/>
<circle cx="109.3" cy="153.2" r="3" fill="#343468" stroke="#1c1c34" stroke-width="0.6"/>
<circle cx="108.7" cy="157.7" r="3" fill="#343468" stroke="#1c1c34" stroke-width="0.6"/>
<circle cx="111.1" cy="164.9" r="3" fill="#343468" stroke="#1c1c34" stroke-width="0.6"/>
<circle cx="112.2" cy="169.6" r="3" fill="#343468" stroke="#1c1c34" stroke-width="0.6"/>
<circle cx="114.3" cy="170.0" r="3" fill="#343468" stroke="#1c1c34" stroke-width="0.6"/>
<circle cx="113.7" cy="174.5" r="3" fill="#343468" stroke="#1c1c34" stroke-width="0.6"/>
<circle cx="118.3" cy="168.7" r="3" fill="#343468" stroke="#1c1c34" stroke-width="0.6"/>
<circle cx="118.2" cy="173.6" r="3" fill="#343468" stroke="#1c1c34" stroke-width="0.6"/>
<circle cx="119.6" cy="165.6" r="3" fill="#343468" stroke="#1c1c34" stroke-width="0.6"/>
<circle cx="120.2" cy="168.8" r="3" fill="#343468" stroke="#1c1c34" stroke-width="0.6"/>
<circle cx="122.8" cy="166.0" r="3" fill="#343468" stroke="#1c1c34" stroke-width="0.6"/>
<circle cx="124.0" cy="169.9" r="3" fill="#343468" stroke="#1c1c34" stroke-width="0.6"/>
<circle cx="126.6" cy="156.9" r="3" fill="#343468" stroke="#1c1c34" stroke-width="0.6"/>
<circle cx="126.6" cy="160.8" r="3" fill="#343468" stroke="#1c1c34" stroke-width="0.6"/>
<circle cx="128.6" cy="157.3" r="3" fill="#343468" stroke="#1c1c34" stroke-width="0.6"/>
<circle cx="128.0" cy="161.7" r="3" fill="#343468" stroke="#1c1c34" stroke-width="0.6"/>
<circle cx="131.7" cy="158.9" r="3" fill="#343468" stroke="#1c1c34" stroke-width="0.6"/>
<circle cx="130.6" cy="161.7" r="3" fill="#343468" stroke="#1c1c34" stroke-width="0.6"/>
<circle cx="134.5" cy="161.0" r="3" fill="#343468" stroke="#1c1c34" stroke-width="0.6"/>
<circle cx="134.0" cy="163.2" r="3" fill="#343468" stroke="#1c1c34" stroke-width="0.6"/>
<circle cx="137.2" cy="161.5" r="3" fill="#343468" stroke="#1c1c34" stroke-width="0.6"/>
<circle cx="137.2" cy="165.2" r="3" fill="#343468" stroke="#1c1c34" stroke-width="0.6"/>
<circle cx="140.8" cy="156.8" r="3" fill="#343468" stroke="#1c1c34" stroke-width="0.6"/>
<circle cx="140.3" cy="161.8" r="3" fill="#343468" stroke="#1c1c34" stroke-width="0.6"/>
<circle cx="143.2" cy="152.5" r="3" fill="#343468" stroke="#1c1c34" stroke-width="0.6"/>
<circle cx="142.8" cy="156.8" r="3" fill="#343468" stroke="#1c1c34" stroke-width="0.6"/>
<circle cx="144.5" cy="154.4" r="3" fill="#343468" stroke="#1c1c34" stroke-width="0.6"/>
<circle cx="145.2" cy="158.0" r="3" fill="#343468" stroke="#1c1c34" stroke-width="0.6"/>
<circle cx="149.0" cy="159.3" r="3" fill="#343468" stroke="#1c1c34" stroke-width="0.6"/>
<circle cx="148.0" cy="162.9" r="3" fill="#343468" stroke="#1c1c34" stroke-width="0.6"/>
<circle cx="150.0" cy="163.1" r="3" fill="#343468" stroke="#1c1c34" stroke-width="0.6"/>
<circle cx="150.5" cy="166.2" r="3" fill="#343468" stroke="#1c1c34" stroke-width="0.6"/>
<circle cx="153.8" cy="162.6" r="3" fill="#343468" stroke="#1c1c34" stroke-width="0.6"/>
<circle cx="153.3" cy="165.9" r="3" fill="#343468" stroke="#1c1c34" stroke-width="0.6"/>
<circle cx="155.9" cy="163.7" r="3" fill="#343468" stroke="#1c1c34" stroke-width="0.6"/>
<circle cx="156.6" cy="166.7" r="3" fill="#343468" stroke="#1c1c34" stroke-width="0.6"/>
<circle cx="158.8" cy="163.0" r="3" fill="#343468" stroke="#1c1c34" stroke-width="0.6"/>
<circle cx="158.6" cy="168.0" r="3" fill="#343468" stroke="#1c1c34" stroke-width="0.6"/>
<circle cx="161.9" cy="157.2" r="3" fill="#343468" stroke="#1c1c34" stroke-width="0.6"/>
<circle cx="161.3" cy="160.5" r="3" fill="#343468" stroke="#1c1c34" stroke-width="0.6"/>
<circle cx="165.0" cy="157.2" r="3" fill="#343468" stroke="#1c1c34" stroke-width="0.6"/>
<circle cx="163.5" cy="159.6" r="3" fill="#343468" stroke="#1c1c34" stroke-width="0.6"/>
<circle cx="167.5" cy="155.8" r="3" fill="#343468" stroke="#1c1c34" stroke-width="0.6"/>
<circle cx="167.4" cy="161.6" r="3" fill="#343468" stroke="#1c1c34" stroke-width="0.6"/>
<circle cx="171.5" cy="155.6" r="3" fill="#343468" stroke="#1c1c34" stroke-width="0.6"/>
<circle cx="170.2" cy="160.1" r="3" fill="#343468" stroke="#1c1c34" stroke-width="0.6"/>
<circle cx="174.4" cy="157.7" r="3" fill="#343468" stroke="#1c1c34" stroke-width="0.6"/>
<circle cx="174.0" cy="160.7" r="3" fill="#343468" stroke="#1c1c34" stroke-width="0.6"/>
<circle cx="176.7" cy="148.4" r="3" fill="#343468" stroke="#1c1c34" stroke-width="0.6"/>
<circle cx="176.9" cy="150.8" r="3" fill="#343468" stroke="#1c1c34" stroke-width="0.6"/>
<circle cx="180.4" cy="146.3" r="3" fill="#343468" stroke="#1c1c34" stroke-width="0.6"/>
<circle cx="180.1" cy="150.6" r="3" fill="#343468" stroke="#1c1c34" stroke-width="0.6"/>
<circle cx="182.5" cy="147.3" r="3" fill="#343468" stroke="#1c1c34" stroke-width="0.6"/>
<circle cx="182.3" cy="152.6" r="3" fill="#343468" stroke="#1c1c34" stroke-width="0.6"/>
<circle cx="185.6" cy="148.2" r="3" fill="#343468" stroke="#1c1c34" stroke-width="0.6"/>
<circle cx="186.3" cy="152.5" r="3" fill="#343468" stroke="#1c1c34" stroke-width="0.6"/>
<circle cx="187.6" cy="148.0" r="3" fill="#343468" stroke="#1c1c34" stroke-width="0.6"/>
<circle cx="187.3" cy="152.7" r="3" fill="#343468" stroke="#1c1c34" stroke-width="0.6"/>
<circle cx="189.2" cy="147.2" r="3" fill="#343468" stroke="#1c1c34" stroke-width="0.6"/>
<circle cx="190.3" cy="150.7" r="3" fill="#343468" stroke="#1c1c34" stroke-width="0.6"/>
<circle cx="193.0" cy="150.3" r="3" fill="#343468" stroke="#1c1c34" stroke-width="0.6"/>
<circle cx="192.7" cy="153.9" r="3" fill="#343468" stroke="#1c1c34" stroke-width="0.6"/>
<circle cx="195.7" cy="154.9" r="3" fill="#343468" stroke="#1c1c34" stroke-width="0.6"/>
<circle cx="195.3" cy="157.0" r="3" fill="#343468" stroke="#1c1c34" stroke-width="0.6"/>
<circle cx="198.2" cy="158.5" r="3" fill="#343468" stroke="#1c1c34" stroke-width="0.6"/>
<circle cx="197.7" cy="162.5" r="3" fill="#343468" stroke="#1c1c34" stroke-width="0.6"/>
<circle cx="199.4" cy="158.8" r="3" fill="#343468" stroke="#1c1c34" stroke-width="0.6"/>
<circle cx="200.7" cy="163.9" r="3" fill="#343468" stroke="#1c1c34" stroke-width="0.6"/>
<circle cx="204.2" cy="159.3" r="3" fill="#343468" stroke="#1c1c34" stroke-width="0.6"/>
<circle cx="204.2" cy="163.5" r="3" fill="#343468" stroke="#1c1c34" stroke-width="0.6"/>
<circle cx="206.2" cy="162.3" r="3" fill="#343468" stroke="#1c1c34" stroke-width="0.6"/>
<circle cx="205.9" cy="164.8" r="3" fill="#343468" stroke="#1c1c34" stroke-width="0.6"/>
<circle cx="209.6" cy="163.8" r="3" fill="#343468" stroke="#1c1c34" stroke-width="0.6"/>
<circle cx="208.4" cy="167.0" r="3" fill="#343468" stroke="#1c1c34" stroke-width="0.6"/>
<circle cx="211.9" cy="167.1" r="3" fill="#343468" stroke="#1c1c34" stroke-width="0.6"/>
<circle cx="211.9" cy="171.5" r="3" fill="#343468" stroke="#1c1c34" stroke-width="0.6"/>
<circle cx="215.2" cy="167.6" r="3" fill="#343468" stroke="#1c1c34" stroke-width="0.6"/>
<circle cx="215.1" cy="171.6" r="3" fill="#343468" stroke="#1c1c34" stroke-width="0.6"/>
<circle cx="215.9" cy="167.6" r="3" fill="#343468" stroke="#1c1c34" stroke-width="0.6"/>
<circle cx="217.0" cy="172.4" r="3" fill="#343468" stroke="#1c1c34" stroke-width="0.6"/>
<circle cx="219.7" cy="166.7" r="3" fill="#343468" stroke="#1c1c34" stroke-width="0.6"/>
<circle cx="219.3" cy="170.0" r="3" fill="#343468" stroke="#1c1c34" stroke-width="0.6"/>
<circle cx="221.4" cy="166.3" r="3" fill="#343468" stroke="#1c1c34" stroke-width="0.6"/>
<circle cx="221.7" cy="168.3" r="3" fill="#343468" stroke="#1c1c34" stroke-width="0.6"/>
<circle cx="224.4" cy="163.8" r="3" fill="#343468" stroke="#1c1c34" stroke-width="0.6"/>
<circle cx="223.3" cy="167.5" r="3" fill="#343468" stroke="#1c1c34" stroke-width="0.6"/>
<circle cx="226.5" cy="164.4" r="3" fill="#343468" stroke="#1c1c34" stroke-width="0.6"/>
<circle cx="227.5" cy="168.7" r="3" fill="#343468" stroke="#1c1c34" stroke-width="0.6"/>
<circle cx="229.1" cy="164.9" r="3" fill="#343468" stroke="#1c1c34" stroke-width="0.6"/>
<circle cx="228.8" cy="167.8" r="3" fill="#343468" stroke="#1c1c34" stroke-width="0.6"/>
<circle cx="231.1" cy="167.1" r="3" fill="#343468" stroke="#1c1c34" stroke-width="0.6"/>
<circle cx="231.5" cy="172.5" r="3" fill="#343468" stroke="#1c1c34" stroke-width="0.6"/>
<circle cx="234.8" cy="169.1" r="3" fill="#343468" stroke="#1c1c34" stroke-width="0.6"/>
<circle cx="235.2" cy="173.8" r="3" fill="#343468" stroke="#1c1c34" stroke-width="0.6"/>
<circle cx="237.3" cy="169.8" r="3" fill="#343468" stroke="#1c1c34" stroke-width="0.6"/>
<circle cx="237.9" cy="174.4" r="3" fill="#343468" stroke="#1c1c34" stroke-width="0.6"/>
<circle cx="240.2" cy="169.7" r="3" fill="#343468" stroke="#1c1c34" stroke-width="0.6"/>
<circle cx="239.4" cy="173.6" r="3" fill="#343468" stroke="#1c1c34" stroke-width="0.6"/>
<circle cx="241.6" cy="170.1" r="3" fill="#343468" stroke="#1c1c34" stroke-width="0.6"/>
<circle cx="242.1" cy="172.8" r="3" fill="#343468" stroke="#1c1c34" stroke-width="0.6"/>
<circle cx="245.4" cy="170.0" r="3" fill="#343468" stroke="#1c1c34" stroke-width="0.6"/>
<circle cx="245.6" cy="174.1" r="3" fill="#343468" stroke="#1c1c34" stroke-width="0.6"/>
<circle cx="248.6" cy="170.1" r="3" fill="#343468" stroke="#1c1c34" stroke-width="0.6"/>
<circle cx="247.3" cy="172.4" r="3" fill="#343468" stroke="#1c1c34" stroke-width="0.6"/>
<circle cx="251.1" cy="158.8" r="3" fill="#343468" stroke="#1c1c34" stroke-width="0.6"/>
<circle cx="250.1" cy="162.9" r="3" fill="#343468" stroke="#1c1c34" stroke-width="0.6"/>
<circle cx="253.1" cy="156.1" r="3" fill="#343468" stroke="#1c1c34" stroke-width="0.6"/>
<circle cx="252.8" cy="160.3" r="3" fill="#343468" stroke="#1c1c34" stroke-width="0.6"/>
<circle cx="254.6" cy="154.7" r="3" fill="#343468" stroke="#1c1c34" stroke-width="0.6"/>
<circle cx="255.4" cy="158.8" r="3" fill="#343468" stroke="#1c1c34" stroke-width="0.6"/>
<circle cx="256.9" cy="154.6" r="3" fill="#343468" stroke="#1c1c34" stroke-width="0.6"/>
<circle cx="256.9" cy="158.4" r="3" fill="#343468" stroke="#1c1c34" stroke-width="0.6"/>
<circle cx="259.3" cy="157.0" r="3" fill="#343468" stroke="#1c1c34" stroke-width="0.6"/>
<circle cx="260.1" cy="160.7" r="3" fill="#343468" stroke="#1c1c34" stroke-width="0.6"/>
<circle cx="262.5" cy="158.3" r="3" fill="#343468" stroke="#1c1c34" stroke-width="0.6"/>
<circle cx="261.9" cy="163.2" r="3" fill="#343468" stroke="#1c1c34" stroke-width="0.6"/>
<circle cx="264.8" cy="165.2" r="3" fill="#343468" stroke="#1c1c34" stroke-width="0.6"/>
<circle cx="265.8" cy="167.8" r="3" fill="#343468" stroke="#1c1c34" stroke-width="0.6"/>
<circle cx="267.5" cy="170.1" r="3" fill="#343468" stroke="#1c1c34" stroke-width="0.6"/>
<circle cx="267.9" cy="174.0" r="3" fill="#343468" stroke="#1c1c34" stroke-width="0.6"/>
<circle cx="271.2" cy="168.2" r="3" fill="#343468" stroke="#1c1c34" stroke-width="0.6"/>
<circle cx="271.3" cy="173.4" r="3" fill="#343468" stroke="#1c1c34" stroke-width="0.6"/>
<circle cx="273.6" cy="167.3" r="3" fill="#343468" stroke="#1c1c34" stroke-width="0.6"/>
<circle cx="272.8" cy="170.5" r="3" fill="#343468" stroke="#1c1c34" stroke-width="0.6"/>
<circle cx="276.1" cy="166.0" r="3" fill="#343468" stroke="#1c1c34" stroke-width="0.6"/>
<circle cx="277.4" cy="168.2" r="3" fill="#343468" stroke="#1c1c34" stroke-width="0.6"/>
<circle cx="280.8" cy="167.6" r="3" fill="#343468" stroke="#1c1c34" stroke-width="0.6"/>
<circle cx="280.7" cy="172.1" r="3" fill="#343468" stroke="#1c1c34" stroke-width="0.6"/>
<circle cx="283.4" cy="163.1" r="3" fill="#343468" stroke="#1c1c34" stroke-width="0.6"/>
<circle cx="282.4" cy="166.7" r="3" fill="#343468" stroke="#1c1c34" stroke-width="0.6"/>
<circle cx="285.5" cy="161.3" r="3" fill="#343468" stroke="#1c1c34" stroke-width="0.6"/>
<circle cx="286.1" cy="164.4" r="3" fill="#343468" stroke="#1c1c34" stroke-width="0.6"/>
<circle cx="288.7" cy="163.0" r="3" fill="#343468" stroke="#1c1c34" stroke-width="0.6"/>
<circle cx="288.5" cy="167.4" r="3" fill="#343468" stroke="#1c1c34" stroke-width="0.6"/>
<circle cx="290.9" cy="168.2" r="3" fill="#343468" stroke="#1c1c34" stroke-width="0.6"/>
<circle cx="291.7" cy="171.3" r="3" fill="#343468" stroke="#1c1c34" stroke-width="0.6"/>
<circle cx="294.2" cy="168.0" r="3" fill="#343468" stroke="#1c1c34" stroke-width="0.6"/>
<circle cx="294.3" cy="170.8" r="3" fill="#343468" stroke="#1c1c34" stroke-width="0.6"/>
<circle cx="296.6" cy="162.4" r="3" fill="#343468" stroke="#1c1c34" stroke-width="0.6"/>
<circle cx="297.0" cy="165.0" r="3" fill="#343468" stroke="#1c1c34" stroke-width="0.6"/>
<circle cx="298.6" cy="160.5" r="3" fill="#343468" stroke="#1c1c34" stroke-width="0.6"/>
<circle cx="299.1" cy="164.2" r="3" fill="#343468" stroke="#1c1c34" stroke-width="0.6"/>
<circle cx="301.4" cy="162.4" r="3" fill="#343468" stroke="#1c1c34" stroke-width="0.6"/>
<circle cx="302.1" cy="164.7" r="3" fill="#343468" stroke="#1c1c34" stroke-width="0.6"/>
<circle cx="305.3" cy="161.6" r="3" fill="#343468" stroke="#1c1c34" stroke-width="0.6"/>
<circle cx="305.4" cy="165.9" r="3" fill="#343468" stroke="#1c1c34" stroke-width="0.6"/>
<circle cx="307.7" cy="162.3" r="3" fill="#343468" stroke="#1c1c34" stroke-width="0.6"/>
<circle cx="307.6" cy="165.0" r="3" fill="#343468" stroke="#1c1c34" stroke-width="0.6"/>
<circle cx="309.5" cy="166.4" r="3" fill="#343468" stroke="#1c1c34" stroke-width="0.6"/>
<circle cx="309.6" cy="170.6" r="3" fill="#343468" stroke="#1c1c34" stroke-width="0.6"/>
<circle cx="312.8" cy="167.6" r="3" fill="#343468" stroke="#1c1c34" stroke-width="0.6"/>
<circle cx="312.9" cy="170.3" r="3" fill="#343468" stroke="#1c1c34" stroke-width="0.6"/>
<circle cx="315.0" cy="164.4" r="3" fill="#343468" stroke="#1c1c34" stroke-width="0.6"/>
<circle cx="316.5" cy="169.4" r="3" fill="#343468" stroke="#1c1c34" stroke-width="0.6"/>
<circle cx="318.5" cy="168.7" r="3" fill="#343468" stroke="#1c1c34" stroke-width="0.6"/>
<circle cx="318.2" cy="172.5" r="3" fill="#343468" stroke="#1c1c34" stroke-width="0.6"/>
<circle cx="320.9" cy="169.9" r="3" fill="#343468" stroke="#1c1c34" stroke-width="0.6"/>
<circle cx="321.6" cy="174.3" r="3" fill="#343468" stroke="#1c1c34" stroke-width="0.6"/>
<circle cx="323.5" cy="168.8" r="3" fill="#343468" stroke="#1c1c34" stroke-width="0.6"/>
<circle cx="323.7" cy="173.0" r="3" fill="#343468" stroke="#1c1c34" stroke-width="0.6"/>
<circle cx="326.5" cy="169.1" r="3" fill="#343468" stroke="#1c1c34" stroke-width="0.6"/>
<circle cx="325.8" cy="173.4" r="3" fill="#343468" stroke="#1c1c34" stroke-width="0.6"/>
<circle cx="329.2" cy="168.1" r="3" fill="#343468" stroke="#1c1c34" stroke-width="0.6"/>
<circle cx="328.2" cy="171.7" r="3" fill="#343468" stroke="#1c1c34" stroke-width="0.6"/>
<circle cx="331.6" cy="168.3" r="3" fill="#343468" stroke="#1c1c34" stroke-width="0.6"/>
<circle cx="331.1" cy="172.3" r="3" fill="#343468" stroke="#1c1c34" stroke-width="0.6"/>
<circle cx="333.4" cy="168.5" r="3" fill="#343468" stroke="#1c1c34" stroke-width="0.6"/>
<circle cx="333.1" cy="172.8" r="3" fill="#343468" stroke="#1c1c34" stroke-width="0.6"/>
<circle cx="336.1" cy="163.1" r="3" fill="#343468" stroke="#1c1c34" stroke-width="0.6"/>
<circle cx="338.8" cy="161.3" r="3" fill="#343468" stroke="#1c1c34" stroke-width="0.6"/>
<circle cx="342.7" cy="159.6" r="3" fill="#343468" stroke="#1c1c34" stroke-width="0.6"/>
<circle cx="343.7" cy="157.7" r="3" fill="#343468" stroke="#1c1c34" stroke-width="0.6"/>
<circle cx="347.2" cy="157.2" r="3" fill="#343468" stroke="#1c1c34" stroke-width="0.6"/>
<circle cx="349.6" cy="156.2" r="3" fill="#343468" stroke="#1c1c34" stroke-width="0.6"/>
<circle cx="350.0" cy="159.9" r="3" fill="#343468" stroke="#1c1c34" stroke-width="0.6"/>
<circle cx="352.5" cy="156.8" r="3" fill="#343468" stroke="#1c1c34" stroke-width="0.6"/>
<circle cx="352.8" cy="159.3" r="3" fill="#343468" stroke="#1c1c34" stroke-width="0.6"/>
<circle cx="354.9" cy="157.2" r="3" fill="#343468" stroke="#1c1c34" stroke-width="0.6"/>
<circle cx="354.4" cy="159.9" r="3" fill="#343468" stroke="#1c1c34" stroke-width="0.6"/>
<circle cx="357.6" cy="157.2" r="3" fill="#343468" stroke="#1c1c34" stroke-width="0.6"/>
<circle cx="356.2" cy="161.8" r="3" fill="#343468" stroke="#1c1c34" stroke-width="0.6"/>
<circle cx="360.0" cy="156.7" r="3" fill="#343468" stroke="#1c1c34" stroke-width="0.6"/>
<circle cx="359.0" cy="159.5" r="3" fill="#343468" stroke="#1c1c34" stroke-width="0.6"/>
<circle cx="362.5" cy="157.5" r="3" fill="#343468" stroke="#1c1c34" stroke-width="0.6"/>
<circle cx="362.4" cy="160.3" r="3" fill="#343468" stroke="#1c1c34" stroke-width="0.6"/>
<circle cx="365.2" cy="154.8" r="3" fill="#343468" stroke="#1c1c34" stroke-width="0.6"/>
<circle cx="364.9" cy="159.7" r="3" fill="#343468" stroke="#1c1c34" stroke-width="0.6"/>
<circle cx="367.2" cy="155.4" r="3" fill="#343468" stroke="#1c1c34" stroke-width="0.6"/>
<circle cx="368.3" cy="160.8" r="3" fill="#343468" stroke="#1c1c34" stroke-width="0.6"/>
<circle cx="371.0" cy="157.6" r="3" fill="#343468" stroke="#1c1c34" stroke-width="0.6"/>
<circle cx="371.0" cy="162.3" r="3" fill="#343468" stroke="#1c1c34" stroke-width="0.6"/>
<circle cx="374.1" cy="159.3" r="3" fill="#343468" stroke="#1c1c34" stroke-width="0.6"/>
<circle cx="373.6" cy="163.5" r="3" fill="#343468" stroke="#1c1c34" stroke-width="0.6"/>
<circle cx="376.4" cy="159.0" r="3" fill="#343468" stroke="#1c1c34" stroke-width="0.6"/>
<circle cx="376.5" cy="162.5" r="3" fill="#343468" stroke="#1c1c34" stroke-width="0.6"/>
<circle cx="377.8" cy="156.9" r="3" fill="#343468" stroke="#1c1c34" stroke-width="0.6"/>
<circle cx="378.3" cy="158.6" r="3" fill="#343468" stroke="#1c1c34" stroke-width="0.6"/>
<circle cx="380.9" cy="152.5" r="3" fill="#343468" stroke="#1c1c34" stroke-width="0.6"/>
<circle cx="381.0" cy="155.0" r="3" fill="#343468" stroke="#1c1c34" stroke-width="0.6"/>
<circle cx="383.6" cy="147.0" r="3" fill="#343468" stroke="#1c1c34" stroke-width="0.6"/>
<circle cx="382.4" cy="151.7" r="3" fill="#343468" stroke="#1c1c34" stroke-width="0.6"/>
<circle cx="385.8" cy="149.0" r="3" fill="#343468" stroke="#1c1c34" stroke-width="0.6"/>
<circle cx="385.7" cy="154.5" r="3" fill="#343468" stroke="#1c1c34" stroke-width="0.6"/>
<circle cx="389.8" cy="147.9" r="3" fill="#343468" stroke="#1c1c34" stroke-width="0.6"/>
<circle cx="388.7" cy="151.3" r="3" fill="#343468" stroke="#1c1c34" stroke-width="0.6"/>
<circle cx="391.3" cy="144.7" r="3" fill="#343468" stroke="#1c1c34" stroke-width="0.6"/>
<circle cx="391.2" cy="148.7" r="3" fill="#343468" stroke="#1c1c34" stroke-width="0.6"/>
<circle cx="393.8" cy="147.5" r="3" fill="#343468" stroke="#1c1c34" stroke-width="0.6"/>
<circle cx="394.7" cy="151.0" r="3" fill="#343468" stroke="#1c1c34" stroke-width="0.6"/>
<circle cx="396.6" cy="147.2" r="3" fill="#343468" stroke="#1c1c34" stroke-width="0.6"/>
<circle cx="397.0" cy="150.9" r="3" fill="#343468" stroke="#1c1c34" stroke-width="0.6"/>
<circle cx="399.2" cy="144.6" r="3" fill="#343468" stroke="#1c1c34" stroke-width="0.6"/>
<circle cx="399.1" cy="148.3" r="3" fill="#343468" stroke="#1c1c34" stroke-width="0.6"/>
<circle cx="402.5" cy="149.7" r="3" fill="#343468" stroke="#1c1c34" stroke-width="0.6"/>
<circle cx="405.9" cy="153.2" r="3" fill="#343468" stroke="#1c1c34" stroke-width="0.6"/>
<circle cx="409.2" cy="153.9" r="3" fill="#343468" stroke="#1c1c34" stroke-width="0.6"/>
<circle cx="412.2" cy="153.7" r="3" fill="#343468" stroke="#1c1c34" stroke-width="0.6"/>
<circle cx="414.1" cy="154.7" r="3" fill="#343468" stroke="#1c1c34" stroke-width="0.6"/>
<circle cx="418.0" cy="152.8" r="3" fill="#343468" stroke="#1c1c34" stroke-width="0.6"/>
<circle cx="421.0" cy="150.9" r="3" fill="#343468" stroke="#1c1c34" stroke-width="0.6"/>
<circle cx="422.0" cy="149.8" r="3" fill="#343468" stroke="#1c1c34" stroke-width="0.6"/>
<circle cx="424.9" cy="152.8" r="3" fill="#343468" stroke="#1c1c34" stroke-width="0.6"/>
<circle cx="427.8" cy="153.9" r="3" fill="#343468" stroke="#1c1c34" stroke-width="0.6"/>
<circle cx="430.4" cy="155.4" r="3" fill="#343468" stroke="#1c1c34" stroke-width="0.6"/>
<circle cx="434.1" cy="155.5" r="3" fill="#343468" stroke="#1c1c34" stroke-width="0.6"/>
<circle cx="436.9" cy="155.5" r="3" fill="#343468" stroke="#1c1c34" stroke-width="0.6"/>
<circle cx="439.7" cy="152.0" r="3" fill="#343468" stroke="#1c1c34" stroke-width="0.6"/>
<circle cx="441.9" cy="152.0" r="3" fill="#343468" stroke="#1c1c34" stroke-width="0.6"/>
<circle cx="441.0" cy="155.3" r="3" fill="#343468" stroke="#1c1c34" stroke-width="0.6"/>
<circle cx="443.7" cy="152.0" r="3" fill="#343468" stroke="#1c1c34" stroke-width="0.6"/>
<circle cx="445.0" cy="156.2" r="3" fill="#343468" stroke="#1c1c34" stroke-width="0.6"/>
<circle cx="447.0" cy="153.8" r="3" fill="#343468" stroke="#1c1c34" stroke-width="0.6"/>
<circle cx="448.1" cy="157.4" r="3" fill="#343468" stroke="#1c1c34" stroke-width="0.6"/>
<circle cx="450.1" cy="149.2" r="3" fill="#343468" stroke="#1c1c34" stroke-width="0.6"/>
<circle cx="449.7" cy="152.1" r="3" fill="#343468" stroke="#1c1c34" stroke-width="0.6"/>
<circle cx="453.3" cy="149.8" r="3" fill="#343468" stroke="#1c1c34" stroke-width="0.6"/>
<circle cx="452.9" cy="152.6" r="3" fill="#343468" stroke="#1c1c34" stroke-width="0.6"/>
<circle cx="456.0" cy="158.9" r="3" fill="#343468" stroke="#1c1c34" stroke-width="0.6"/>
<circle cx="455.7" cy="163.2" r="3" fill="#343468" stroke="#1c1c34" stroke-width="0.6"/>
<circle cx="458.2" cy="157.9" r="3" fill="#343468" stroke="#1c1c34" stroke-width="0.6"/>
<circle cx="458.2" cy="162.4" r="3" fill="#343468" stroke="#1c1c34" stroke-width="0.6"/>
<circle cx="460.7" cy="157.8" r="3" fill="#343468" stroke="#1c1c34" stroke-width="0.6"/>
<circle cx="460.1" cy="161.5" r="3" fill="#343468" stroke="#1c1c34" stroke-width="0.6"/>
<circle cx="464.0" cy="157.5" r="3" fill="#343468" stroke="#1c1c34" stroke-width="0.6"/>
<circle cx="463.7" cy="161.5" r="3" fill="#343468" stroke="#1c1c34" stroke-width="0.6"/>
<circle cx="467.4" cy="157.8" r="3" fill="#343468" stroke="#1c1c34" stroke-width="0.6"/>
<circle cx="467.2" cy="161.1" r="3" fill="#343468" stroke="#1c1c34" stroke-width="0.6"/>
<circle cx="469.4" cy="152.9" r="3" fill="#343468" stroke="#1c1c34" stroke-width="0.6"/>
<circle cx="470.5" cy="158.2" r="3" fill="#343468" stroke="#1c1c34" stroke-width="0.6"/>
<circle cx="472.4" cy="149.3" r="3" fill="#343468" stroke="#1c1c34" stroke-width="0.6"/>
<circle cx="472.3" cy="153.5" r="3" fill="#343468" stroke="#1c1c34" stroke-width="0.6"/>
<circle cx="474.8" cy="148.7" r="3" fill="#343468" stroke="#1c1c34" stroke-width="0.6"/>
<circle cx="475.3" cy="152.8" r="3" fill="#343468" stroke="#1c1c34" stroke-width="0.6"/>
<circle cx="477.9" cy="148.3" r="3" fill="#343468" stroke="#1c1c34" stroke-width="0.6"/>
<circle cx="476.8" cy="151.7" r="3" fill="#343468" stroke="#1c1c34" stroke-width="0.6"/>
<circle cx="479.6" cy="148.3" r="3" fill="#343468" stroke="#1c1c34" stroke-width="0.6"/>
<circle cx="479.4" cy="151.8" r="3" fill="#343468" stroke="#1c1c34" stroke-width="0.6"/>
<ellipse cx="69.6" cy="162.2" rx="1.6" ry="1.3" fill="#fff"/>
<ellipse cx="81.2" cy="155.6" rx="3.0" ry="1.1" fill="#fff"/>
<ellipse cx="81.2" cy="163.3" rx="3.0" ry="1.5" fill="#fff"/>
<ellipse cx="183" cy="155" rx="1.0" ry="3.2" fill="#fff"/>
<ellipse cx="360.5" cy="171.4" rx="1.6" ry="1.1" fill="#fff"/>
<ellipse cx="370" cy="164" rx="1" ry="1" fill="#fff"/>
<ellipse cx="202" cy="174" rx="0.8" ry="2.4" fill="#fff"/>
<ellipse cx="480.5" cy="154.8" rx="2.6" ry="1.4" fill="#fff"/>
<circle cx="151.2" cy="48.3" r="3" fill="#343468" stroke="#1c1c34" stroke-width="0.7"/>
<circle cx="173.6" cy="38.5" r="3" fill="#343468" stroke="#1c1c34" stroke-width="0.7"/>
<circle cx="178.1" cy="41.2" r="3" fill="#343468" stroke="#1c1c34" stroke-width="0.7"/>
<circle cx="198.1" cy="42.1" r="3" fill="#343468" stroke="#1c1c34" stroke-width="0.7"/>
<circle cx="145.5" cy="80.0" r="3" fill="#343468" stroke="#1c1c34" stroke-width="0.7"/>
<circle cx="147.8" cy="82.2" r="3" fill="#343468" stroke="#1c1c34" stroke-width="0.7"/>
<circle cx="149.6" cy="84.4" r="3" fill="#343468" stroke="#1c1c34" stroke-width="0.7"/>
<circle cx="151.1" cy="86.6" r="3" fill="#343468" stroke="#1c1c34" stroke-width="0.7"/>
<circle cx="145.5" cy="93.8" r="3" fill="#343468" stroke="#1c1c34" stroke-width="0.7"/>
<circle cx="149.0" cy="94.3" r="3" fill="#343468" stroke="#1c1c34" stroke-width="0.7"/>
<circle cx="152.4" cy="94.9" r="3" fill="#343468" stroke="#1c1c34" stroke-width="0.7"/>
<circle cx="155.7" cy="94.9" r="3" fill="#343468" stroke="#1c1c34" stroke-width="0.7"/>
<circle cx="159.0" cy="93.8" r="3" fill="#343468" stroke="#1c1c34" stroke-width="0.7"/>
<circle cx="161.8" cy="94.4" r="3" fill="#343468" stroke="#1c1c34" stroke-width="0.7"/>
<circle cx="165.1" cy="94.9" r="3" fill="#343468" stroke="#1c1c34" stroke-width="0.7"/>
<circle cx="167.9" cy="95.5" r="3" fill="#343468" stroke="#1c1c34" stroke-width="0.7"/>
<circle cx="171.2" cy="95.5" r="3" fill="#343468" stroke="#1c1c34" stroke-width="0.7"/>
<circle cx="166.3" cy="99.4" r="3" fill="#343468" stroke="#1c1c34" stroke-width="0.7"/>
<circle cx="164.0" cy="102.1" r="3" fill="#343468" stroke="#1c1c34" stroke-width="0.7"/>
<circle cx="162.4" cy="104.3" r="3" fill="#343468" stroke="#1c1c34" stroke-width="0.7"/>
<circle cx="147.5" cy="95.0" r="3" fill="#343468" stroke="#1c1c34" stroke-width="0.7"/>
<circle cx="153.5" cy="95.8" r="3" fill="#343468" stroke="#1c1c34" stroke-width="0.7"/>
<circle cx="158.0" cy="95.5" r="3" fill="#343468" stroke="#1c1c34" stroke-width="0.7"/>
<circle cx="162.5" cy="95.8" r="3" fill="#343468" stroke="#1c1c34" stroke-width="0.7"/>
<circle cx="169.5" cy="96.5" r="3" fill="#343468" stroke="#1c1c34" stroke-width="0.7"/>
<circle cx="181.8" cy="89.8" r="3" fill="#343468" stroke="#1c1c34" stroke-width="0.7"/>
<circle cx="186.4" cy="87.9" r="3" fill="#343468" stroke="#1c1c34" stroke-width="0.7"/>
<circle cx="196.2" cy="84.2" r="3" fill="#343468" stroke="#1c1c34" stroke-width="0.7"/>
<circle cx="199.6" cy="83.0" r="3" fill="#343468" stroke="#1c1c34" stroke-width="0.7"/>
<circle cx="146.3" cy="114.6" r="3" fill="#343468" stroke="#1c1c34" stroke-width="0.7"/>
<circle cx="153.7" cy="117.1" r="3" fill="#343468" stroke="#1c1c34" stroke-width="0.7"/>
<circle cx="176.8" cy="143.5" r="3" fill="#343468" stroke="#1c1c34" stroke-width="0.7"/>
<circle cx="188.0" cy="121.5" r="3" fill="#343468" stroke="#1c1c34" stroke-width="0.7"/>
<circle cx="183.3" cy="147.5" r="3" fill="#343468" stroke="#1c1c34" stroke-width="0.7"/>
<circle cx="179.4" cy="143.1" r="3" fill="#343468" stroke="#1c1c34" stroke-width="0.7"/>
<circle cx="191.9" cy="143.1" r="3" fill="#343468" stroke="#1c1c34" stroke-width="0.7"/>
<circle cx="117.1" cy="141.3" r="3" fill="#343468" stroke="#1c1c34" stroke-width="0.7"/>
<circle cx="255.8" cy="117.2" r="3" fill="#343468" stroke="#1c1c34" stroke-width="0.7"/>
<circle cx="209.6" cy="161.1" r="3" fill="#343468" stroke="#1c1c34" stroke-width="0.7"/>
<circle cx="206.7" cy="163.4" r="3" fill="#343468" stroke="#1c1c34" stroke-width="0.7"/>
<circle cx="223.5" cy="161.1" r="3" fill="#343468" stroke="#1c1c34" stroke-width="0.7"/>
<circle cx="221.7" cy="164.0" r="3" fill="#343468" stroke="#1c1c34" stroke-width="0.7"/>
<circle cx="231.0" cy="159.3" r="3" fill="#343468" stroke="#1c1c34" stroke-width="0.7"/>
<circle cx="229.8" cy="163.4" r="3" fill="#343468" stroke="#1c1c34" stroke-width="0.7"/>
<circle cx="248.8" cy="154.1" r="3" fill="#343468" stroke="#1c1c34" stroke-width="0.7"/>
<circle cx="253.4" cy="154.1" r="3" fill="#343468" stroke="#1c1c34" stroke-width="0.7"/>
<circle cx="256.3" cy="150.7" r="3" fill="#343468" stroke="#1c1c34" stroke-width="0.7"/>
<circle cx="259.2" cy="153.0" r="3" fill="#343468" stroke="#1c1c34" stroke-width="0.7"/>
<circle cx="262.7" cy="155.3" r="3" fill="#343468" stroke="#1c1c34" stroke-width="0.7"/>
<circle cx="255.7" cy="161.1" r="3" fill="#343468" stroke="#1c1c34" stroke-width="0.7"/>
<circle cx="257.5" cy="164.5" r="3" fill="#343468" stroke="#1c1c34" stroke-width="0.7"/>
<circle cx="259.2" cy="168.0" r="3" fill="#343468" stroke="#1c1c34" stroke-width="0.7"/>
<circle cx="262.9" cy="155.3" r="3" fill="#343468" stroke="#1c1c34" stroke-width="0.7"/>
<circle cx="265.8" cy="163.4" r="3" fill="#343468" stroke="#1c1c34" stroke-width="0.7"/>
<circle cx="260.0" cy="165.7" r="3" fill="#343468" stroke="#1c1c34" stroke-width="0.7"/>
<circle cx="276.1" cy="161.6" r="3" fill="#343468" stroke="#1c1c34" stroke-width="0.7"/>
<circle cx="282.5" cy="159.3" r="3" fill="#343468" stroke="#1c1c34" stroke-width="0.7"/>
<circle cx="286.5" cy="157.6" r="3" fill="#343468" stroke="#1c1c34" stroke-width="0.7"/>
<circle cx="298.1" cy="157.0" r="3" fill="#343468" stroke="#1c1c34" stroke-width="0.7"/>
<circle cx="306.1" cy="157.0" r="3" fill="#343468" stroke="#1c1c34" stroke-width="0.7"/>
<circle cx="315.4" cy="160.5" r="3" fill="#343468" stroke="#1c1c34" stroke-width="0.7"/>
<circle cx="171.3" cy="139.7" r="3" fill="#343468" stroke="#1c1c34" stroke-width="0.7"/>
<circle cx="161.5" cy="154.1" r="3" fill="#343468" stroke="#1c1c34" stroke-width="0.7"/>
<circle cx="170.8" cy="153.0" r="3" fill="#343468" stroke="#1c1c34" stroke-width="0.7"/>
<circle cx="208.2" cy="161.0" r="3" fill="#343468" stroke="#1c1c34" stroke-width="0.7"/>
<circle cx="315.6" cy="159.9" r="3" fill="#343468" stroke="#1c1c34" stroke-width="0.7"/>
<circle cx="369.8" cy="154.1" r="3" fill="#343468" stroke="#1c1c34" stroke-width="0.7"/>
<circle cx="404.6" cy="148.8" r="3" fill="#343468" stroke="#1c1c34" stroke-width="0.7"/>
<circle cx="408.0" cy="150.6" r="3" fill="#343468" stroke="#1c1c34" stroke-width="0.7"/>
<circle cx="412.7" cy="150.6" r="3" fill="#343468" stroke="#1c1c34" stroke-width="0.7"/>
<circle cx="416.1" cy="151.1" r="3" fill="#343468" stroke="#1c1c34" stroke-width="0.7"/>
<circle cx="423.0" cy="145.4" r="3" fill="#343468" stroke="#1c1c34" stroke-width="0.7"/>
<circle cx="425.4" cy="150.0" r="3" fill="#343468" stroke="#1c1c34" stroke-width="0.7"/>
<circle cx="428.8" cy="151.7" r="3" fill="#343468" stroke="#1c1c34" stroke-width="0.7"/>
<circle cx="471.7" cy="145.4" r="3" fill="#343468" stroke="#1c1c34" stroke-width="0.7"/>
<circle cx="475.7" cy="145.4" r="3" fill="#343468" stroke="#1c1c34" stroke-width="0.7"/>
<circle cx="480.4" cy="144.8" r="3" fill="#343468" stroke="#1c1c34" stroke-width="0.7"/>
<circle cx="477.5" cy="150.0" r="3" fill="#343468" stroke="#1c1c34" stroke-width="0.7"/>
<circle cx="408.5" cy="158.5" r="3" fill="#343468" stroke="#1c1c34" stroke-width="0.7"/>
<circle cx="418.3" cy="159.0" r="3" fill="#343468" stroke="#1c1c34" stroke-width="0.7"/>
<circle cx="425.8" cy="158.5" r="3" fill="#343468" stroke="#1c1c34" stroke-width="0.7"/>
<circle cx="439.5" cy="158.0" r="3" fill="#343468" stroke="#1c1c34" stroke-width="0.7"/>
<circle cx="221.3" cy="148.1" r="3" fill="#343468" stroke="#1c1c34" stroke-width="0.7"/>
<circle cx="231.9" cy="148.8" r="3" fill="#343468" stroke="#1c1c34" stroke-width="0.7"/>
<circle cx="230.6" cy="155.0" r="3" fill="#343468" stroke="#1c1c34" stroke-width="0.7"/>
<circle cx="249.0" cy="154.6" r="3" fill="#343468" stroke="#1c1c34" stroke-width="0.7"/>
<circle cx="256.2" cy="151.2" r="3" fill="#343468" stroke="#1c1c34" stroke-width="0.7"/>
<circle cx="262.6" cy="155.2" r="3" fill="#343468" stroke="#1c1c34" stroke-width="0.7"/>
<circle cx="265.5" cy="163.3" r="3" fill="#343468" stroke="#1c1c34" stroke-width="0.7"/>
<circle cx="298.8" cy="144.4" r="3" fill="#343468" stroke="#1c1c34" stroke-width="0.7"/>
<circle cx="298.8" cy="157.8" r="3" fill="#343468" stroke="#1c1c34" stroke-width="0.7"/>
<circle cx="306.3" cy="157.5" r="3" fill="#343468" stroke="#1c1c34" stroke-width="0.7"/>
<circle cx="315.0" cy="160.6" r="3" fill="#343468" stroke="#1c1c34" stroke-width="0.7"/>
<circle cx="286.3" cy="158.1" r="3" fill="#343468" stroke="#1c1c34" stroke-width="0.7"/>
<circle cx="283.1" cy="159.4" r="3" fill="#343468" stroke="#1c1c34" stroke-width="0.7"/>
<circle cx="276.3" cy="161.3" r="3" fill="#343468" stroke="#1c1c34" stroke-width="0.7"/>
<circle cx="263.1" cy="155.0" r="3" fill="#343468" stroke="#1c1c34" stroke-width="0.7"/>
<circle cx="403.1" cy="130.0" r="3" fill="#343468" stroke="#1c1c34" stroke-width="0.7"/>
<circle cx="422.0" cy="124.3" r="3" fill="#343468" stroke="#1c1c34" stroke-width="0.7"/>
<circle cx="456.5" cy="122.3" r="3" fill="#343468" stroke="#1c1c34" stroke-width="0.7"/>
<circle cx="455.8" cy="132.3" r="3" fill="#343468" stroke="#1c1c34" stroke-width="0.7"/>
<circle cx="340.1" cy="149.9" r="3" fill="#343468" stroke="#1c1c34" stroke-width="0.7"/>
<circle cx="344.1" cy="149.9" r="3" fill="#343468" stroke="#1c1c34" stroke-width="0.7"/>
<circle cx="365.0" cy="147.9" r="3" fill="#343468" stroke="#1c1c34" stroke-width="0.7"/>
<circle cx="368.4" cy="151.9" r="3" fill="#343468" stroke="#1c1c34" stroke-width="0.7"/>
<circle cx="383.2" cy="143.2" r="3" fill="#343468" stroke="#1c1c34" stroke-width="0.7"/>
<circle cx="385.2" cy="146.5" r="3" fill="#343468" stroke="#1c1c34" stroke-width="0.7"/>
<circle cx="392.4" cy="142.3" r="3" fill="#343468" stroke="#1c1c34" stroke-width="0.7"/>
<circle cx="392.6" cy="146.5" r="3" fill="#343468" stroke="#1c1c34" stroke-width="0.7"/>
<circle cx="400.5" cy="142.6" r="3" fill="#343468" stroke="#1c1c34" stroke-width="0.7"/>
<circle cx="146.5" cy="126.3" r="3" fill="#343468" stroke="#1c1c34" stroke-width="0.7"/>
<circle cx="150.4" cy="125.2" r="3" fill="#343468" stroke="#1c1c34" stroke-width="0.7"/>
<circle cx="150.4" cy="131.3" r="3" fill="#343468" stroke="#1c1c34" stroke-width="0.7"/>
<circle cx="154.5" cy="130.5" r="3" fill="#343468" stroke="#1c1c34" stroke-width="0.7"/>
<circle cx="158.7" cy="130.7" r="3" fill="#343468" stroke="#1c1c34" stroke-width="0.7"/>
<circle cx="167.0" cy="133.0" r="3" fill="#343468" stroke="#1c1c34" stroke-width="0.7"/>
<circle cx="170.9" cy="139.0" r="3" fill="#343468" stroke="#1c1c34" stroke-width="0.7"/>
<circle cx="146.5" cy="139.6" r="3" fill="#343468" stroke="#1c1c34" stroke-width="0.7"/>
<circle cx="152.0" cy="136.3" r="3" fill="#343468" stroke="#1c1c34" stroke-width="0.7"/>
<circle cx="152.6" cy="141.3" r="3" fill="#343468" stroke="#1c1c34" stroke-width="0.7"/>
<circle cx="158.2" cy="140.2" r="3" fill="#343468" stroke="#1c1c34" stroke-width="0.7"/>
<circle cx="144.3" cy="145.1" r="3" fill="#343468" stroke="#1c1c34" stroke-width="0.7"/>
<circle cx="150.4" cy="146.3" r="3" fill="#343468" stroke="#1c1c34" stroke-width="0.7"/>
<circle cx="151.5" cy="150.7" r="3" fill="#343468" stroke="#1c1c34" stroke-width="0.7"/>
<circle cx="158.7" cy="148.0" r="3" fill="#343468" stroke="#1c1c34" stroke-width="0.7"/>
<circle cx="142.6" cy="153.5" r="3" fill="#343468" stroke="#1c1c34" stroke-width="0.7"/>
<circle cx="162.6" cy="154.6" r="3" fill="#343468" stroke="#1c1c34" stroke-width="0.7"/>
<circle cx="168.1" cy="154.6" r="3" fill="#343468" stroke="#1c1c34" stroke-width="0.7"/>
<circle cx="175.3" cy="150.1" r="3" fill="#343468" stroke="#1c1c34" stroke-width="0.7"/>
<circle cx="224.1" cy="34.4" r="3" fill="#9acfec" stroke="#2a3040" stroke-width="0.8"/>
<circle cx="230.2" cy="40.0" r="3" fill="#eca634" stroke="#2a3040" stroke-width="0.8"/>
<circle cx="237.5" cy="58.8" r="3" fill="#58a743" stroke="#2a3040" stroke-width="0.8"/>
<circle cx="269.2" cy="76.2" r="3" fill="#9acfec" stroke="#2a3040" stroke-width="0.8"/>
<circle cx="231.9" cy="140.6" r="3" fill="#9acfec" stroke="#2a3040" stroke-width="0.8"/>
</g>
<polygon points="260.2,24.099999999999998 264.0,27.9 260.2,31.7 256.4,27.9" fill="#5b4d85" stroke="#3a2f5a" stroke-width="0.7"/>
<text x="233.2" y="21.8" font-size="9.3" fill="#333">rs142677811</text>
<path d="M37.5,0.5 V189.6 H483.5 V0.5" fill="none" stroke="#606060" stroke-width="1"/>
<line x1="37.0" y1="0.5" x2="484.0" y2="0.5" stroke="#7c7c7c" stroke-width="1"/>
<line x1="31.4" y1="181.3" x2="37.5" y2="181.3" stroke="#555" stroke-width="1"/>
<text x="26.6" y="184.6" font-size="9.4" fill="#555" text-anchor="end">0</text>
<line x1="31.4" y1="146.8" x2="37.5" y2="146.8" stroke="#555" stroke-width="1"/>
<text x="26.6" y="150.1" font-size="9.4" fill="#555" text-anchor="end">2</text>
<line x1="31.4" y1="112.2" x2="37.5" y2="112.2" stroke="#555" stroke-width="1"/>
<text x="26.6" y="115.5" font-size="9.4" fill="#555" text-anchor="end">4</text>
<line x1="31.4" y1="77.7" x2="37.5" y2="77.7" stroke="#555" stroke-width="1"/>
<text x="26.6" y="81.0" font-size="9.4" fill="#555" text-anchor="end">6</text>
<line x1="31.4" y1="43.2" x2="37.5" y2="43.2" stroke="#555" stroke-width="1"/>
<text x="26.6" y="46.5" font-size="9.4" fill="#555" text-anchor="end">8</text>
<line x1="31.4" y1="8.7" x2="37.5" y2="8.7" stroke="#555" stroke-width="1"/>
<text x="26.6" y="12.0" font-size="9.4" fill="#555" text-anchor="end">10</text>
<line x1="483.5" y1="181.3" x2="488.8" y2="181.3" stroke="#6a7290" stroke-width="1"/>
<text x="494" y="184.6" font-size="9.3" fill="#6c7696">0</text>
<line x1="483.5" y1="146.8" x2="488.8" y2="146.8" stroke="#6a7290" stroke-width="1"/>
<text x="494" y="150.1" font-size="9.3" fill="#6c7696">20</text>
<line x1="483.5" y1="112.2" x2="488.8" y2="112.2" stroke="#6a7290" stroke-width="1"/>
<text x="494" y="115.5" font-size="9.3" fill="#6c7696">40</text>
<line x1="483.5" y1="77.7" x2="488.8" y2="77.7" stroke="#6a7290" stroke-width="1"/>
<text x="494" y="81.0" font-size="9.3" fill="#6c7696">60</text>
<line x1="483.5" y1="43.2" x2="488.8" y2="43.2" stroke="#6a7290" stroke-width="1"/>
<text x="494" y="46.5" font-size="9.3" fill="#6c7696">80</text>
<line x1="483.5" y1="8.7" x2="488.8" y2="8.7" stroke="#6a7290" stroke-width="1"/>
<text x="494" y="12.0" font-size="9.3" fill="#6c7696">100</text>
<text transform="translate(7.6,94.6) rotate(-90)" font-size="9.5" fill="#555" text-anchor="middle">&#8722;log<tspan font-size="6.4" dy="2">10</tspan><tspan dy="-2">(p&#8722;value)</tspan></text>
<text transform="translate(512.4,94.5) rotate(90)" font-size="9.2" fill="#6c7696" text-anchor="middle">Recombination rate (cM/Mb)</text>
<rect x="441.5" y="4.5" width="36.6" height="88.3" fill="#fff" stroke="#555" stroke-width="1"/>
<rect x="446.4" y="20.00" width="9.4" height="13.85" fill="#e8282e" stroke="#333" stroke-width="0.6"/>
<rect x="446.4" y="33.85" width="9.4" height="13.85" fill="#f5a21e" stroke="#333" stroke-width="0.6"/>
<rect x="446.4" y="47.70" width="9.4" height="13.85" fill="#5cb440" stroke="#333" stroke-width="0.6"/>
<rect x="446.4" y="61.55" width="9.4" height="13.85" fill="#8ccaee" stroke="#333" stroke-width="0.6"/>
<rect x="446.4" y="75.40" width="9.4" height="13.85" fill="#2a2a6c" stroke="#333" stroke-width="0.6"/>
<line x1="455.8" y1="33.9" x2="459" y2="33.9" stroke="#444" stroke-width="0.8"/>
<text x="462.2" y="36.9" font-size="8.2" fill="#555">0.8</text>
<line x1="455.8" y1="47.7" x2="459" y2="47.7" stroke="#444" stroke-width="0.8"/>
<text x="462.2" y="50.7" font-size="8.2" fill="#555">0.6</text>
<line x1="455.8" y1="61.5" x2="459" y2="61.5" stroke="#444" stroke-width="0.8"/>
<text x="462.2" y="64.5" font-size="8.2" fill="#555">0.4</text>
<line x1="455.8" y1="75.4" x2="459" y2="75.4" stroke="#444" stroke-width="0.8"/>
<text x="462.2" y="78.4" font-size="8.2" fill="#555">0.2</text>
<text x="456.5" y="17.2" font-size="8.6" fill="#444">r<tspan font-size="7" dy="-4.3">2</tspan></text>
<rect x="37.5" y="200.9" width="446.0" height="124.4" fill="none" stroke="#606060" stroke-width="1.1"/>
<line x1="86.2" y1="325.3" x2="86.2" y2="331" stroke="#555" stroke-width="1"/>
<text x="86.2" y="346" font-size="9.3" fill="#555" text-anchor="middle">101.5</text>
<line x1="197.6" y1="325.3" x2="197.6" y2="331" stroke="#555" stroke-width="1"/>
<text x="197.6" y="346" font-size="9.3" fill="#555" text-anchor="middle">102</text>
<line x1="309.0" y1="325.3" x2="309.0" y2="331" stroke="#555" stroke-width="1"/>
<text x="309.0" y="346" font-size="9.3" fill="#555" text-anchor="middle">102.5</text>
<line x1="420.4" y1="325.3" x2="420.4" y2="331" stroke="#555" stroke-width="1"/>
<text x="420.4" y="346" font-size="9.3" fill="#555" text-anchor="middle">103</text>
<text x="213.6" y="358.7" font-size="9.4" fill="#555">Position on chr11 (Mb)</text>
<line x1="46.3" y1="207.4" x2="51.0" y2="207.4" stroke="#222" stroke-width="1"/>
<polygon points="43.3,207.4 47.2,205.8 47.2,209.0" fill="#1a1a1a"/>
<text x="52.2" y="210.2" font-size="7.8" font-style="italic" fill="#3d3d3d">TRPC6</text>
<line x1="46.2" y1="213.9" x2="76.5" y2="213.9" stroke="#30307e" stroke-width="0.8"/>
<rect x="46.2" y="212.4" width="1.0" height="3.0" fill="#30307e"/>
<rect x="49.0" y="212.4" width="1.5" height="3.0" fill="#30307e"/>
<rect x="51.2" y="212.4" width="3.0" height="3.0" fill="#30307e"/>
<rect x="55.0" y="212.4" width="2.0" height="3.0" fill="#30307e"/>
<rect x="58.0" y="212.4" width="1.5" height="3.0" fill="#30307e"/>
<rect x="76.0" y="212.4" width="0.8" height="3.0" fill="#30307e"/>
<line x1="127.0" y1="207.4" x2="132.7" y2="207.4" stroke="#222" stroke-width="1"/>
<polygon points="124.0,207.4 127.9,205.8 127.9,209.0" fill="#1a1a1a"/>
<text x="133.5" y="210.2" font-size="7.8" font-style="italic" fill="#3d3d3d">ANGPTL5</text>
<line x1="143.8" y1="213.6" x2="150.4" y2="213.6" stroke="#30307e" stroke-width="0.8"/>
<rect x="143.8" y="212.1" width="2.7" height="3.0" fill="#30307e"/>
<rect x="147.0" y="212.1" width="3.4" height="3.0" fill="#30307e"/>
<text x="194.2" y="210.2" font-size="7.8" font-style="italic" fill="#3d3d3d">YAP1</text>
<line x1="213.1" y1="207.4" x2="218.9" y2="207.4" stroke="#222" stroke-width="1"/>
<polygon points="221.9,207.4 217.8,205.7 217.8,209.2" fill="#1a1a1a"/>
<line x1="193.0" y1="213.6" x2="220.8" y2="213.6" stroke="#30307e" stroke-width="0.8"/>
<rect x="193.0" y="212.1" width="1.0" height="3.0" fill="#30307e"/>
<rect x="204.5" y="212.1" width="1.0" height="3.0" fill="#30307e"/>
<rect x="210.0" y="212.1" width="1.0" height="3.0" fill="#30307e"/>
<rect x="214.0" y="212.1" width="1.5" height="3.0" fill="#30307e"/>
<rect x="217.5" y="212.1" width="3.3" height="3.0" fill="#30307e"/>
<text x="234.6" y="210.2" font-size="7.8" font-style="italic" fill="#3d3d3d">BIRC2</text>
<line x1="258.3" y1="207.4" x2="263.2" y2="207.4" stroke="#222" stroke-width="1"/>
<polygon points="266.2,207.4 262.1,205.7 262.1,209.2" fill="#1a1a1a"/>
<line x1="246.3" y1="213.6" x2="253.1" y2="213.6" stroke="#30307e" stroke-width="0.8"/>
<rect x="246.3" y="212.1" width="1.3" height="3.0" fill="#30307e"/>
<rect x="248.5" y="212.1" width="1.5" height="3.0" fill="#30307e"/>
<rect x="251.0" y="212.1" width="2.1" height="3.0" fill="#30307e"/>
<line x1="287.0" y1="207.4" x2="292.7" y2="207.4" stroke="#222" stroke-width="1"/>
<polygon points="284.0,207.4 287.9,205.8 287.9,209.0" fill="#1a1a1a"/>
<text x="293.5" y="210.2" font-size="7.8" font-style="italic" fill="#3d3d3d">MMP20</text>
<line x1="297.5" y1="213.6" x2="307.1" y2="213.6" stroke="#30307e" stroke-width="0.8"/>
<rect x="297.5" y="212.1" width="1.0" height="3.0" fill="#30307e"/>
<rect x="300.0" y="212.1" width="1.0" height="3.0" fill="#30307e"/>
<rect x="302.0" y="212.1" width="1.5" height="3.0" fill="#30307e"/>
<rect x="304.0" y="212.1" width="3.1" height="3.0" fill="#30307e"/>
<text x="330.0" y="210.2" font-size="7.8" font-style="italic" fill="#3d3d3d">WTAPP1</text>
<line x1="362.5" y1="207.4" x2="367.4" y2="207.4" stroke="#222" stroke-width="1"/>
<polygon points="370.4,207.4 366.3,205.7 366.3,209.2" fill="#1a1a1a"/>
<line x1="343.0" y1="213.6" x2="355.2" y2="213.6" stroke="#30307e" stroke-width="0.8"/>
<rect x="343.0" y="212.1" width="1.2" height="3.0" fill="#30307e"/>
<rect x="345.0" y="212.1" width="1.0" height="3.0" fill="#30307e"/>
<rect x="354.2" y="212.1" width="1.0" height="3.0" fill="#30307e"/>
<line x1="387.2" y1="207.4" x2="391.9" y2="207.4" stroke="#222" stroke-width="1"/>
<polygon points="384.2,207.4 388.1,205.8 388.1,209.0" fill="#1a1a1a"/>
<text x="392.7" y="210.2" font-size="7.8" font-style="italic" fill="#3d3d3d">DCUN1D5</text>
<line x1="402.0" y1="213.6" x2="412.7" y2="213.6" stroke="#30307e" stroke-width="0.8"/>
<rect x="402.0" y="212.1" width="3.0" height="3.0" fill="#30307e"/>
<rect x="406.0" y="212.1" width="1.5" height="3.0" fill="#30307e"/>
<rect x="410.0" y="212.1" width="2.7" height="3.0" fill="#30307e"/>
<line x1="44.4" y1="225.6" x2="48.6" y2="225.6" stroke="#222" stroke-width="1"/>
<polygon points="41.4,225.6 45.3,224.0 45.3,227.2" fill="#1a1a1a"/>
<text x="49.8" y="228.4" font-size="7.8" font-style="italic" fill="#3d3d3d">MIR3920</text>
<line x1="61.2" y1="231.6" x2="62.0" y2="231.6" stroke="#30307e" stroke-width="0.8"/>
<rect x="61.2" y="230.1" width="0.8" height="3.0" fill="#30307e"/>
<text x="137.8" y="228.4" font-size="7.8" font-style="italic" fill="#3d3d3d">KIAA1377</text>
<line x1="174.4" y1="225.6" x2="179.3" y2="225.6" stroke="#222" stroke-width="1"/>
<polygon points="182.3,225.6 178.2,223.8 178.2,227.3" fill="#1a1a1a"/>
<line x1="149.6" y1="231.6" x2="169.6" y2="231.6" stroke="#30307e" stroke-width="0.8"/>
<rect x="149.6" y="230.1" width="1.0" height="3.0" fill="#30307e"/>
<rect x="152.0" y="230.1" width="1.5" height="3.0" fill="#30307e"/>
<rect x="156.0" y="230.1" width="1.5" height="3.0" fill="#30307e"/>
<rect x="158.5" y="230.1" width="1.5" height="3.0" fill="#30307e"/>
<rect x="161.5" y="230.1" width="1.5" height="3.0" fill="#30307e"/>
<rect x="164.5" y="230.1" width="1.5" height="3.0" fill="#30307e"/>
<rect x="167.0" y="230.1" width="2.6" height="3.0" fill="#30307e"/>
<text x="227.0" y="228.4" font-size="7.8" font-style="italic" fill="#3d3d3d">BIRC3</text>
<line x1="250.6" y1="225.6" x2="255.5" y2="225.6" stroke="#222" stroke-width="1"/>
<polygon points="258.5,225.6 254.4,223.8 254.4,227.3" fill="#1a1a1a"/>
<line x1="239.2" y1="231.6" x2="245.0" y2="231.6" stroke="#30307e" stroke-width="0.8"/>
<rect x="239.2" y="230.1" width="5.8" height="3.0" fill="#30307e"/>
<line x1="272.6" y1="225.6" x2="277.3" y2="225.6" stroke="#222" stroke-width="1"/>
<polygon points="269.6,225.6 273.5,224.0 273.5,227.2" fill="#1a1a1a"/>
<text x="278.5" y="228.4" font-size="7.8" font-style="italic" fill="#3d3d3d">MMP7</text>
<line x1="284.5" y1="231.4" x2="287.0" y2="231.4" stroke="#24243e" stroke-width="0.8"/>
<rect x="284.5" y="229.9" width="2.5" height="3.0" fill="#24243e"/>
<line x1="315.3" y1="225.6" x2="320.0" y2="225.6" stroke="#222" stroke-width="1"/>
<polygon points="312.3,225.6 316.2,224.0 316.2,227.2" fill="#1a1a1a"/>
<text x="321.3" y="228.4" font-size="7.8" font-style="italic" fill="#3d3d3d">MMP8</text>
<line x1="327.0" y1="231.4" x2="329.6" y2="231.4" stroke="#24243e" stroke-width="0.8"/>
<rect x="327.0" y="229.9" width="2.6" height="3.0" fill="#24243e"/>
<line x1="364.5" y1="225.6" x2="369.2" y2="225.6" stroke="#222" stroke-width="1"/>
<polygon points="361.5,225.6 365.4,224.0 365.4,227.2" fill="#1a1a1a"/>
<text x="370.6" y="228.4" font-size="7.8" font-style="italic" fill="#3d3d3d">MMP13</text>
<line x1="378.0" y1="231.4" x2="381.3" y2="231.4" stroke="#24243e" stroke-width="0.8"/>
<rect x="378.0" y="229.9" width="3.3" height="3.0" fill="#24243e"/>
<text x="435.3" y="228.4" font-size="7.8" font-style="italic" fill="#3d3d3d">DYNC2H1</text>
<line x1="472.2" y1="225.6" x2="477.6" y2="225.6" stroke="#222" stroke-width="1"/>
<polygon points="480.6,225.6 476.5,223.8 476.5,227.3" fill="#1a1a1a"/>
<line x1="415.6" y1="231.4" x2="481.3" y2="231.4" stroke="#30307e" stroke-width="0.8"/>
<rect x="415.6" y="229.9" width="2.1" height="3.0" fill="#30307e"/>
<rect x="418.4" y="229.9" width="2.6" height="3.0" fill="#30307e"/>
<rect x="421.7" y="229.9" width="1.6" height="3.0" fill="#30307e"/>
<rect x="423.8" y="229.9" width="2.6" height="3.0" fill="#30307e"/>
<rect x="427.3" y="229.9" width="2.3" height="3.0" fill="#30307e"/>
<rect x="430.4" y="229.9" width="2.2" height="3.0" fill="#30307e"/>
<rect x="433.2" y="229.9" width="2.9" height="3.0" fill="#30307e"/>
<rect x="436.9" y="229.9" width="2.3" height="3.0" fill="#30307e"/>
<rect x="440.1" y="229.9" width="2.7" height="3.0" fill="#30307e"/>
<rect x="443.5" y="229.9" width="1.7" height="3.0" fill="#30307e"/>
<rect x="446.0" y="229.9" width="1.4" height="3.0" fill="#30307e"/>
<rect x="448.4" y="229.9" width="1.8" height="3.0" fill="#30307e"/>
<rect x="451.5" y="229.9" width="1.0" height="3.0" fill="#30307e"/>
<rect x="455.0" y="229.9" width="1.0" height="3.0" fill="#30307e"/>
<rect x="459.5" y="229.9" width="2.5" height="3.0" fill="#30307e"/>
<rect x="470.5" y="229.9" width="0.8" height="3.0" fill="#30307e"/>
<rect x="479.8" y="229.9" width="0.8" height="3.0" fill="#30307e"/>
<text x="163.3" y="246.4" font-size="7.8" font-style="italic" fill="#3d3d3d">C11orf70</text>
<line x1="195.8" y1="243.6" x2="201.6" y2="243.6" stroke="#222" stroke-width="1"/>
<polygon points="204.6,243.6 200.5,241.8 200.5,245.3" fill="#1a1a1a"/>
<line x1="178.5" y1="249.4" x2="188.0" y2="249.4" stroke="#30307e" stroke-width="0.8"/>
<rect x="178.5" y="247.9" width="1.0" height="3.0" fill="#30307e"/>
<rect x="181.0" y="247.9" width="1.0" height="3.0" fill="#30307e"/>
<rect x="183.0" y="247.9" width="5.0" height="3.0" fill="#30307e"/>
<line x1="243.6" y1="243.6" x2="248.3" y2="243.6" stroke="#222" stroke-width="1"/>
<polygon points="240.6,243.6 244.5,242.0 244.5,245.2" fill="#1a1a1a"/>
<text x="249.0" y="246.4" font-size="7.8" font-style="italic" fill="#3d3d3d">TMEM123</text>
<line x1="257.0" y1="249.2" x2="269.4" y2="249.2" stroke="#30307e" stroke-width="0.8"/>
<rect x="257.0" y="247.7" width="1.2" height="3.0" fill="#30307e"/>
<rect x="268.0" y="247.7" width="1.4" height="3.0" fill="#30307e"/>
<line x1="309.0" y1="243.6" x2="313.8" y2="243.6" stroke="#222" stroke-width="1"/>
<polygon points="306.0,243.6 309.9,242.0 309.9,245.2" fill="#1a1a1a"/>
<text x="315.2" y="246.4" font-size="7.8" font-style="italic" fill="#3d3d3d">MMP27</text>
<line x1="322.0" y1="249.2" x2="325.4" y2="249.2" stroke="#24243e" stroke-width="0.8"/>
<rect x="322.0" y="247.7" width="3.4" height="3.0" fill="#24243e"/>
<line x1="326.3" y1="261.1" x2="331.0" y2="261.1" stroke="#222" stroke-width="1"/>
<polygon points="323.3,261.1 327.2,259.5 327.2,262.7" fill="#1a1a1a"/>
<text x="332.0" y="263.9" font-size="7.8" font-style="italic" fill="#3d3d3d">MMP10</text>
<line x1="340.0" y1="267.1" x2="342.8" y2="267.1" stroke="#24243e" stroke-width="0.8"/>
<rect x="340.0" y="265.6" width="2.8" height="3.0" fill="#24243e"/>
<line x1="331.8" y1="278.9" x2="336.6" y2="278.9" stroke="#222" stroke-width="1"/>
<polygon points="328.8,278.9 332.7,277.3 332.7,280.5" fill="#1a1a1a"/>
<text x="337.9" y="281.7" font-size="7.8" font-style="italic" fill="#3d3d3d">MMP1</text>
<line x1="344.2" y1="284.9" x2="346.8" y2="284.9" stroke="#24243e" stroke-width="0.8"/>
<rect x="344.2" y="283.4" width="2.6" height="3.0" fill="#24243e"/>
<line x1="342.5" y1="297.0" x2="347.0" y2="297.0" stroke="#222" stroke-width="1"/>
<polygon points="339.5,297.0 343.4,295.4 343.4,298.6" fill="#1a1a1a"/>
<text x="348.1" y="299.8" font-size="7.8" font-style="italic" fill="#3d3d3d">MMP3</text>
<line x1="354.2" y1="303.0" x2="356.9" y2="303.0" stroke="#24243e" stroke-width="0.8"/>
<rect x="354.2" y="301.5" width="2.7" height="3.0" fill="#24243e"/>
<line x1="346.9" y1="314.6" x2="352.1" y2="314.6" stroke="#222" stroke-width="1"/>
<polygon points="343.9,314.6 347.8,313.0 347.8,316.2" fill="#1a1a1a"/>
<text x="353.0" y="317.4" font-size="7.8" font-style="italic" fill="#3d3d3d">MMP12</text>
<line x1="361.0" y1="320.6" x2="363.9" y2="320.6" stroke="#24243e" stroke-width="0.8"/>
<rect x="361.0" y="319.1" width="2.9" height="3.0" fill="#24243e"/>
</svg></body></html>
